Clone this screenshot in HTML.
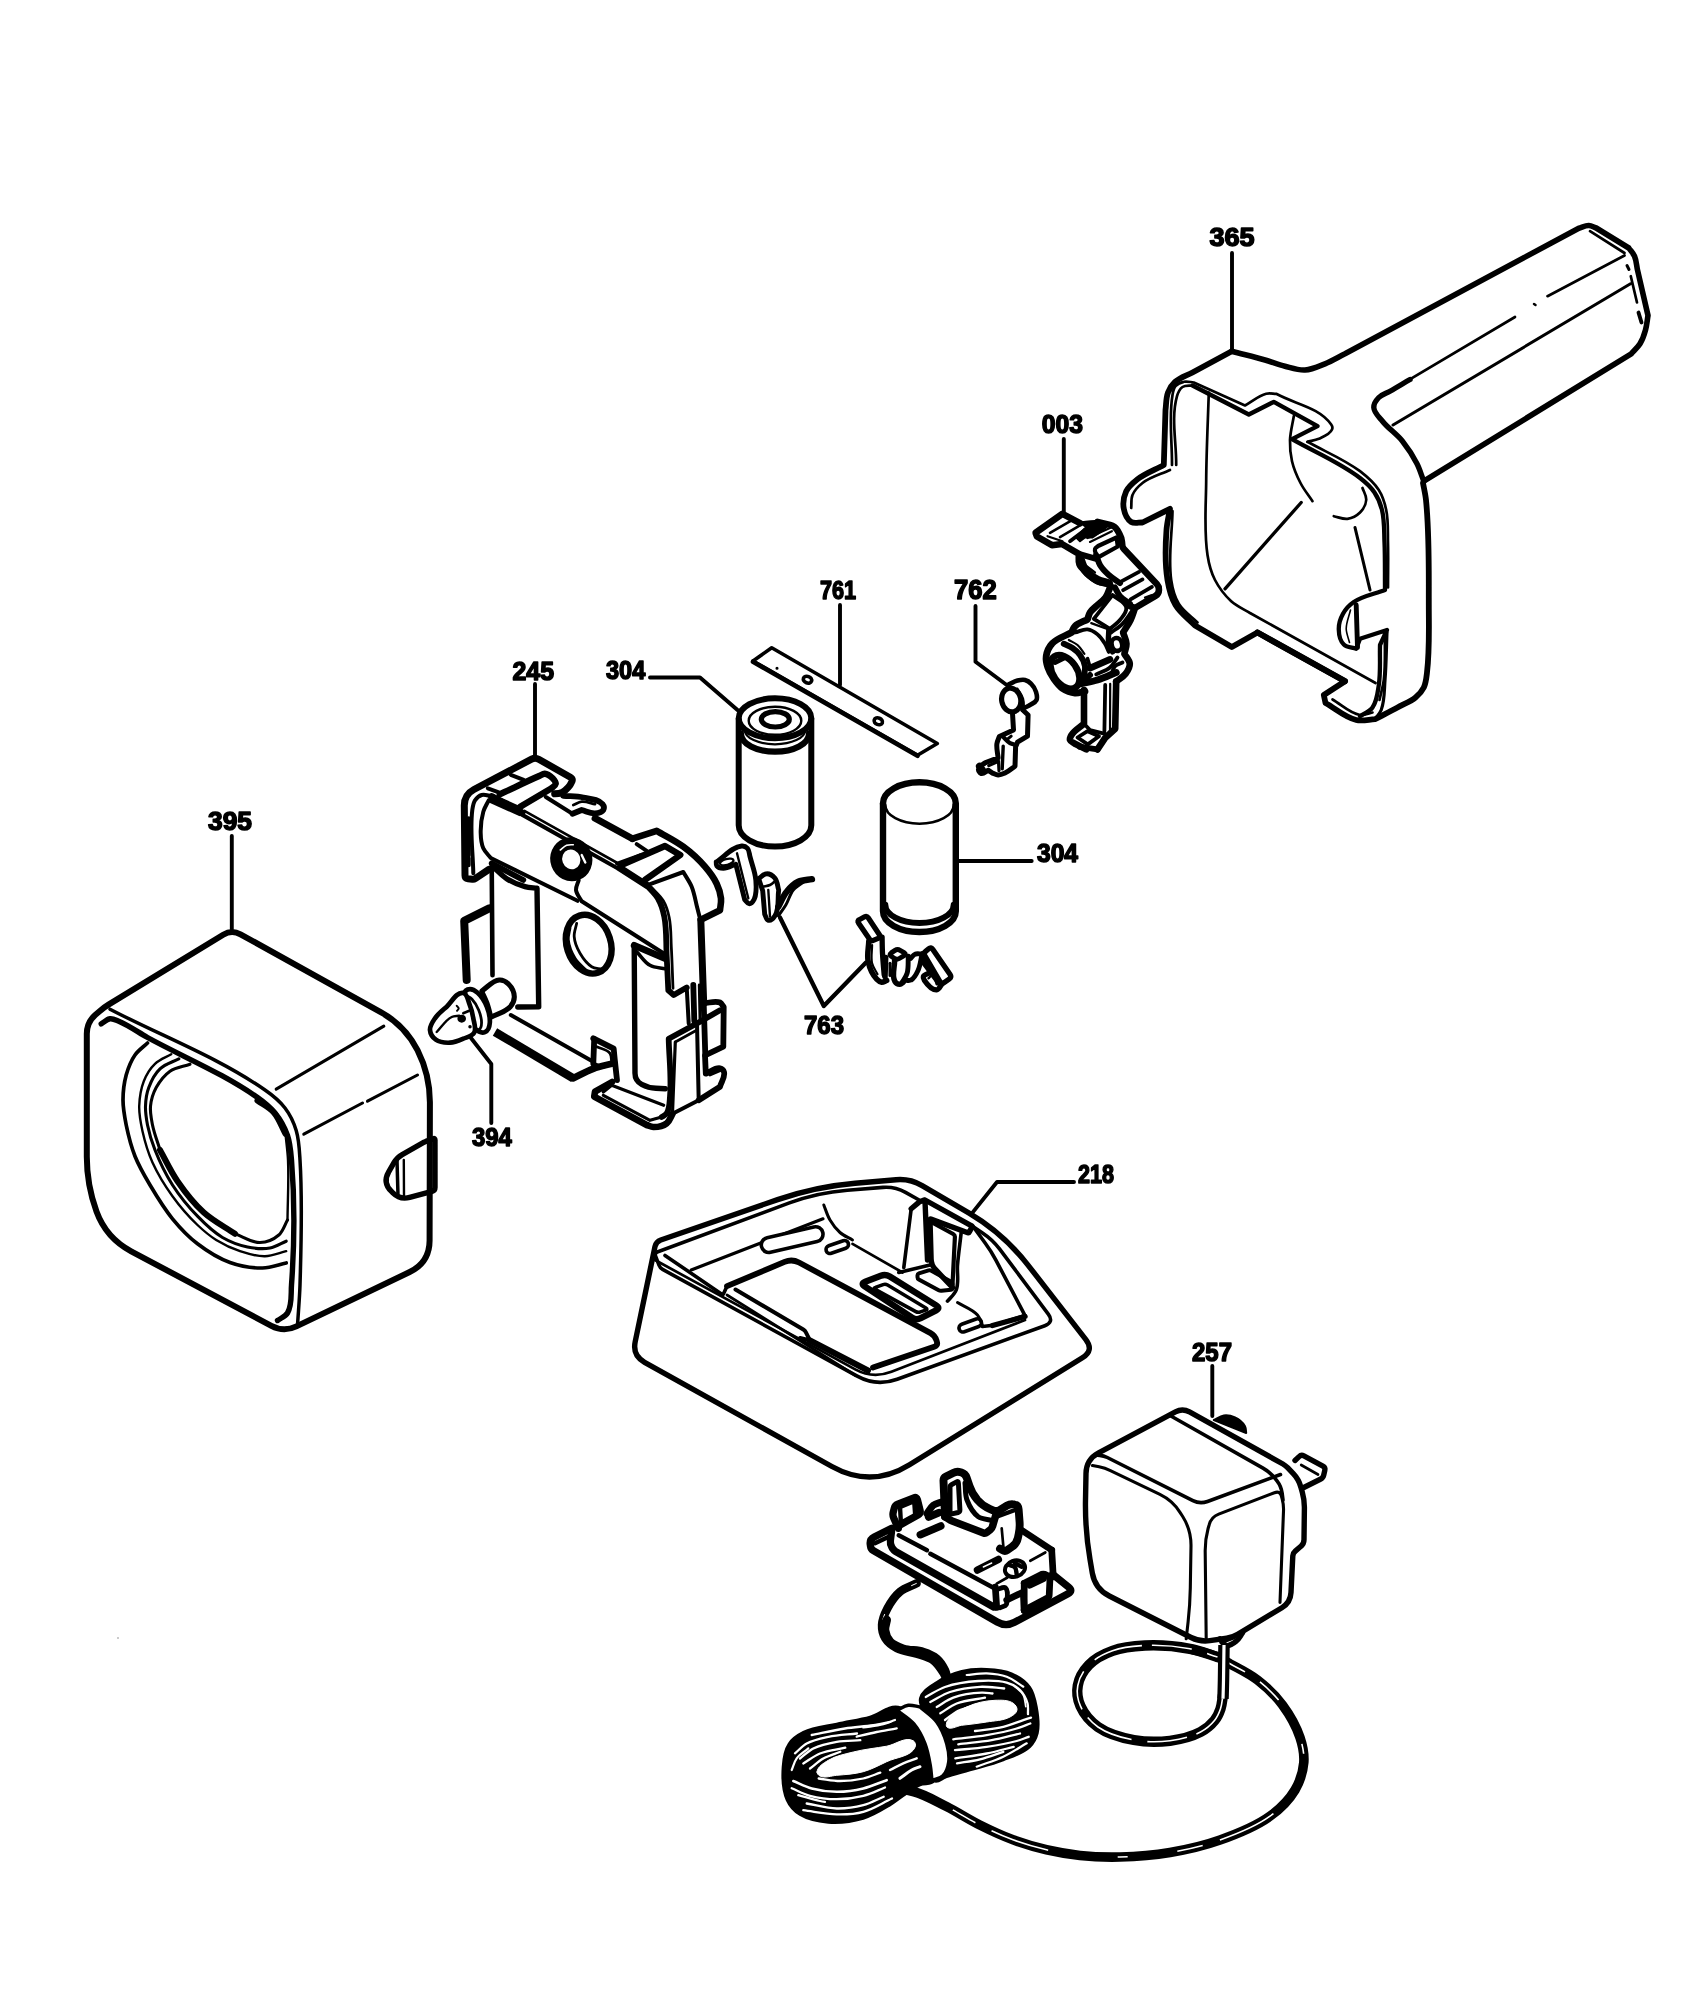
<!DOCTYPE html>
<html><head><meta charset="utf-8"><title>Exploded view</title>
<style>html,body{margin:0;padding:0;background:#fff}svg{display:block}svg{will-change:transform}text{font-family:"Liberation Sans",sans-serif;font-weight:bold;fill:#000;stroke:#000;stroke-width:1.5px;stroke-linejoin:round}</style>
</head><body>
<svg width="1707" height="2000" viewBox="0 0 1707 2000">
<rect width="1707" height="2000" fill="#fff"/>
<text x="1209.4" y="246.3" font-size="26.00" textLength="45.14" lengthAdjust="spacingAndGlyphs">365</text>
<text x="1041.8" y="433.3" font-size="26.00" textLength="41.22" lengthAdjust="spacingAndGlyphs">003</text>
<text x="820.0" y="599.3" font-size="26.00" textLength="36.18" lengthAdjust="spacingAndGlyphs">761</text>
<text x="954.1" y="598.5" font-size="26.75" textLength="42.78" lengthAdjust="spacingAndGlyphs">762</text>
<text x="512.5" y="679.8" font-size="26.00" textLength="41.52" lengthAdjust="spacingAndGlyphs">245</text>
<text x="606.0" y="678.8" font-size="26.00" textLength="39.32" lengthAdjust="spacingAndGlyphs">304</text>
<text x="1037.0" y="862.3" font-size="26.00" textLength="41.00" lengthAdjust="spacingAndGlyphs">304</text>
<text x="208.0" y="829.8" font-size="26.00" textLength="44.00" lengthAdjust="spacingAndGlyphs">395</text>
<text x="472.0" y="1146.3" font-size="26.00" textLength="39.82" lengthAdjust="spacingAndGlyphs">394</text>
<text x="804.0" y="1033.8" font-size="26.00" textLength="40.00" lengthAdjust="spacingAndGlyphs">763</text>
<text x="1078.0" y="1183.3" font-size="26.00" textLength="36.00" lengthAdjust="spacingAndGlyphs">218</text>
<text x="1192.0" y="1360.8" font-size="26.00" textLength="40.00" lengthAdjust="spacingAndGlyphs">257</text>
<path d="M1232 253 L1232 350" fill="none" stroke="#000" stroke-width="3.9" stroke-linecap="round" stroke-linejoin="round"/>
<path d="M1063.8 439 L1063.8 512" fill="none" stroke="#000" stroke-width="3.9" stroke-linecap="round" stroke-linejoin="round"/>
<path d="M840 605 L840 685" fill="none" stroke="#000" stroke-width="3.9" stroke-linecap="round" stroke-linejoin="round"/>
<path d="M975.5 606 L975.5 661.7 L1006.7 685" fill="none" stroke="#000" stroke-width="3.9" stroke-linecap="round" stroke-linejoin="round"/>
<path d="M535 684 L535 759" fill="none" stroke="#000" stroke-width="3.9" stroke-linecap="round" stroke-linejoin="round"/>
<path d="M650 677.5 L700 677.5 L737.5 710" fill="none" stroke="#000" stroke-width="3.9" stroke-linecap="round" stroke-linejoin="round"/>
<path d="M958 861 L1031.7 861" fill="none" stroke="#000" stroke-width="3.9" stroke-linecap="round" stroke-linejoin="round"/>
<path d="M231.8 836 L231.8 929" fill="none" stroke="#000" stroke-width="3.9" stroke-linecap="round" stroke-linejoin="round"/>
<path d="M470 1036.7 L491.3 1064 L491.3 1123" fill="none" stroke="#000" stroke-width="3.9" stroke-linecap="round" stroke-linejoin="round"/>
<path d="M780 917.5 L823.8 1006 L866 962.5" fill="none" stroke="#000" stroke-width="4.3" stroke-linecap="round" stroke-linejoin="round"/>
<path d="M1074 1182 L997 1182 L971.7 1213.6" fill="none" stroke="#000" stroke-width="3.9" stroke-linecap="round" stroke-linejoin="round"/>
<path d="M1212.3 1366 L1212.3 1416" fill="none" stroke="#000" stroke-width="3.9" stroke-linecap="round" stroke-linejoin="round"/>
<circle cx="118" cy="1638" r="0.8" fill="#888"/>
<path d="M1231.8 351.2C1242.8 354.2 1254 356.8 1265 360C1271.7 361.9 1278.2 364.6 1285 366.2C1291.6 367.9 1298.2 370.4 1305 370C1312 369.6 1318.5 366.4 1325 363.8C1331.9 361 1338.3 357.1 1345 353.8L1578.8 228.2C1582.1 227.3 1585.3 225.4 1588.8 225.5C1591.4 225.6 1593.8 227.2 1596.2 228L1628.8 248C1630.7 250.8 1633.2 253.2 1634.5 256.2C1636.4 260.5 1636.5 265.4 1637.5 270L1648 315.5C1647.2 320.3 1646.8 325.3 1645.5 330C1644.2 334.8 1642.6 339.5 1640 343.8C1637.7 347.5 1634.2 350.4 1631.2 353.8L1423.8 481.2" fill="none" stroke="#000" stroke-width="5.6" stroke-linecap="round" stroke-linejoin="round"/>
<path d="M1423.8 481.2C1421.5 475.4 1419.8 469.3 1417 463.8C1413 455.8 1408.1 448.2 1402.5 441.2C1396.6 433.9 1388.4 428.6 1382.5 421.2C1379.1 417 1374 412.9 1373.8 407.5C1373.6 403.8 1376.2 400.2 1378.8 397.5C1381.7 394.4 1386.3 393.4 1390 391.2C1396.7 387.4 1403.3 383.4 1410 379.5" fill="none" stroke="#000" stroke-width="5.4" stroke-linecap="round" stroke-linejoin="round"/>
<path d="M1390 391.2L1515 317" fill="none" stroke="#000" stroke-width="2.7" stroke-linecap="round" stroke-linejoin="round"/>
<path d="M1547.5 296.2L1624.5 255.5" fill="none" stroke="#000" stroke-width="2.7" stroke-linecap="round" stroke-linejoin="round"/>
<path d="M1534 304L1535.5 305" fill="none" stroke="#000" stroke-width="2.5" stroke-linecap="round" stroke-linejoin="round"/>
<path d="M1393 425L1630.5 283.8" fill="none" stroke="#000" stroke-width="3" stroke-linecap="round" stroke-linejoin="round"/>
<path d="M1590 231.2L1624.5 253" fill="none" stroke="#000" stroke-width="2.7" stroke-linecap="round" stroke-linejoin="round"/>
<path d="M1630.8 276.2L1637 302.5" fill="none" stroke="#000" stroke-width="2.7" stroke-linecap="round" stroke-linejoin="round"/>
<path d="M1638.5 312.5L1641.5 322.5" fill="none" stroke="#000" stroke-width="3.9" stroke-linecap="round" stroke-linejoin="round"/>
<path d="M1627 265.5L1629 269.5" fill="none" stroke="#000" stroke-width="3" stroke-linecap="round" stroke-linejoin="round"/>
<path d="M1231.8 351.2C1218.7 358.3 1205.6 365.4 1192.5 372.5C1186.7 375.7 1179.9 377.5 1175 382C1171.9 384.8 1169.5 388.6 1168 392.5C1165.9 398 1166.3 404.2 1165.5 410L1163.8 465C1155 469.8 1145.4 473.2 1137.5 479.2C1133.2 482.6 1128.6 486.3 1126.2 491.2C1123.7 496.6 1122.7 503 1123.8 508.8C1124.7 513.7 1126.9 519.3 1131.2 522C1134.4 524 1138.8 522.3 1142.5 522.5L1170 508.8C1168.8 515.8 1167 522.8 1166.5 530C1165.3 546.6 1164.8 563.6 1167.5 580C1168.9 588.6 1171 597.5 1175.5 605C1180.3 613.1 1188.5 618.7 1195 625.5L1231.8 647L1257.5 632.5L1345 681.2L1323.8 695L1325.5 703C1335.8 708.7 1344.9 717.3 1356.2 720C1362.3 721.4 1368.8 719.5 1375 719.2C1382.5 715.3 1390.1 711.5 1397.5 707.5C1403.5 704.2 1410.2 701.9 1415.5 697.5C1418.8 694.7 1421.9 691.4 1423.8 687.5C1426 682.9 1426.4 677.6 1427 672.5C1429.7 650.2 1428.8 627.5 1428.8 605C1428.7 570 1429.5 534.8 1426 500C1425.4 494.3 1424 488.7 1423 483" fill="none" stroke="#000" stroke-width="5.8" stroke-linecap="round" stroke-linejoin="round"/>
<path d="M1375 719.2C1377.1 716.2 1379.9 713.5 1381.2 710C1384.8 700.6 1384.2 690 1385 680C1386.3 664.2 1386.3 648.3 1387 632.5" fill="none" stroke="#000" stroke-width="3.2" stroke-linecap="round" stroke-linejoin="round"/>
<path d="M1172 465C1172.2 441.7 1168.6 418 1172.5 395C1173 392 1173.5 388.6 1175.5 386.2C1177.5 383.9 1180.7 382.4 1183.8 381.8C1187 381 1190.4 382.2 1193.8 382.5L1245 405.5C1252.1 401.6 1258.4 395.8 1266.2 393.8C1269.5 392.9 1272.9 393.8 1276.2 393.8C1294.6 404 1319.3 407.2 1331.2 424.5C1332.2 425.9 1332.7 428 1332 429.5C1329.9 434.4 1323.6 436.5 1318.8 438.8C1315.2 440.4 1311.2 440.8 1307.5 441.8" fill="none" stroke="#000" stroke-width="2.7" stroke-linecap="round" stroke-linejoin="round"/>
<path d="M1192.5 385.5L1248.8 414.5L1273.8 401.8L1317.5 426.2L1292 439.2C1314.7 452.2 1339.3 462.2 1360 478C1365.4 482.1 1370.7 486.8 1374.5 492.5C1378.1 497.8 1380.5 503.8 1382 510C1384.6 520.6 1384 531.6 1384.5 542.5C1385.2 558.3 1384.8 574.2 1385 590C1374.6 594 1363 595.7 1353.8 602C1349.4 605 1345.5 609.1 1343 613.8C1340.3 618.7 1338.5 624.4 1338.8 630C1338.9 635.1 1340.1 640.9 1343.8 644.5C1346.9 647.6 1352.1 647.3 1356.2 648.8L1360 638.8L1387 630L1380 645C1379.6 658.3 1380.8 671.8 1378.8 685C1377.6 692.7 1377 701.1 1372.5 707.5C1369.6 711.7 1364.2 713.3 1360 716.2" fill="none" stroke="#000" stroke-width="4.3" stroke-linecap="round" stroke-linejoin="round"/>
<path d="M1176.2 465C1176.5 442.1 1170.8 418.3 1177 396.2C1178 392.8 1179.5 389 1182.5 387C1185.3 385.1 1189.2 386 1192.5 385.5" fill="none" stroke="#000" stroke-width="2.7" stroke-linecap="round" stroke-linejoin="round"/>
<path d="M1307.5 441.8C1325 451.6 1344 459.1 1360 471.2C1367 476.6 1374 482.6 1378.8 490C1382.6 496 1384.8 503 1386.2 510C1388.5 520.6 1387.7 531.7 1388 542.5C1388.4 557.5 1388 572.5 1388 587.5" fill="none" stroke="#000" stroke-width="2.7" stroke-linecap="round" stroke-linejoin="round"/>
<path d="M1170 470C1160.8 474.3 1150.5 476.8 1142.5 483C1138.4 486.2 1134.5 490.2 1132.5 495C1130.8 499 1131.7 503.7 1131.2 508" fill="none" stroke="#000" stroke-width="2.7" stroke-linecap="round" stroke-linejoin="round"/>
<path d="M1172.5 511.2C1172.1 534.2 1168 557.3 1171.2 580C1172.4 588.2 1174.4 596.7 1178.8 603.8C1183.3 611.3 1191.2 616.2 1197.5 622.5" fill="none" stroke="#000" stroke-width="2.7" stroke-linecap="round" stroke-linejoin="round"/>
<path d="M1257.5 632.5L1345 681.2" fill="none" stroke="#000" stroke-width="6" stroke-linecap="round" stroke-linejoin="round"/>
<path d="M1332.5 699.5C1341.7 704.7 1349.6 713.3 1360 715C1364.2 715.7 1368.3 713.3 1372.5 712.5" fill="none" stroke="#000" stroke-width="2.7" stroke-linecap="round" stroke-linejoin="round"/>
<path d="M1208.8 392.5C1207.9 421.7 1206.4 450.8 1206.2 480C1206.1 505 1203.7 530.3 1207.5 555C1208.8 563.6 1211 572.3 1215 580C1219.1 587.9 1224.7 595.2 1231.2 601.2C1236.7 606.2 1243.8 609.1 1250 613L1375.5 683" fill="none" stroke="#000" stroke-width="2.7" stroke-linecap="round" stroke-linejoin="round"/>
<path d="M1301.2 502.5L1225 588.8" fill="none" stroke="#000" stroke-width="3.3" stroke-linecap="round" stroke-linejoin="round"/>
<path d="M1293.8 416.2C1292.5 424.2 1290.3 432 1290 440C1289.8 447.1 1290.4 454.3 1292 461.2C1293.8 468.8 1296.9 476.1 1300.5 483C1303.8 489.5 1308.5 495.2 1312.5 501.2" fill="none" stroke="#000" stroke-width="2.7" stroke-linecap="round" stroke-linejoin="round"/>
<path d="M1333.8 516.2C1338.3 517.1 1342.9 519.4 1347.5 518.8C1352.1 518.1 1356.7 515.8 1360 512.5C1363.3 509.2 1365.9 504.6 1366.2 500C1366.6 495.8 1363.8 492 1362.5 488" fill="none" stroke="#000" stroke-width="2.7" stroke-linecap="round" stroke-linejoin="round"/>
<path d="M1355 527.5L1370 590" fill="none" stroke="#000" stroke-width="3.1" stroke-linecap="round" stroke-linejoin="round"/>
<path d="M1356.2 605L1357.5 647.5" fill="none" stroke="#000" stroke-width="4.9" stroke-linecap="round" stroke-linejoin="round"/>
<path d="M1350.5 610C1349.1 616.2 1346.2 622.3 1346.2 628.8C1346.3 633.5 1348.4 637.9 1349.5 642.5" fill="none" stroke="#000" stroke-width="1.6" stroke-linecap="round" stroke-linejoin="round"/>
<path d="M1385 633.8C1384.6 649.2 1385.6 664.7 1383.8 680C1382.9 686.8 1380.9 693.3 1379.5 700" fill="none" stroke="#000" stroke-width="2.7" stroke-linecap="round" stroke-linejoin="round"/>
<path d="M1080 523.1L1062.5 513.8L1035.6 532.8L1036.9 536.5L1051.9 545.2L1061.9 544L1078.8 553.8C1079 557.3 1078.1 561.1 1079.4 564.4C1080.5 567.1 1082.9 569.2 1085 571.2C1088.8 575 1092.7 579 1097.5 581.2C1101 582.9 1105 582.8 1108.8 583.5" fill="none" stroke="#000" stroke-width="6.6" stroke-linecap="round" stroke-linejoin="round"/>
<path d="M1050 532.8L1071.2 520.6" fill="none" stroke="#000" stroke-width="2.6" stroke-linecap="round" stroke-linejoin="round"/>
<path d="M1060 537.2L1080 525.4" fill="none" stroke="#000" stroke-width="2.6" stroke-linecap="round" stroke-linejoin="round"/>
<path d="M1047.5 536.2L1062.5 541.2" fill="none" stroke="#000" stroke-width="2.2" stroke-linecap="round" stroke-linejoin="round"/>
<path d="M1070 541.2L1087.5 528.1" fill="none" stroke="#000" stroke-width="3.8" stroke-linecap="round" stroke-linejoin="round"/>
<path d="M1079.4 522.5C1085.4 522.1 1091.5 520.5 1097.5 521.2C1101.4 521.7 1105 523.8 1108.8 525L1102.5 530.6L1092.5 537.5L1085 537.5L1080 541.2L1076.2 537.5L1086.2 526.9L1079.4 522.5Z" fill="#000" stroke="#000" stroke-width="2" stroke-linecap="round" stroke-linejoin="round"/>
<path d="M1090 541.9L1111.9 531.2" fill="none" stroke="#000" stroke-width="2.2" stroke-linecap="round" stroke-linejoin="round"/>
<path d="M1087.5 538.1L1110 528.1" fill="none" stroke="#000" stroke-width="2.2" stroke-linecap="round" stroke-linejoin="round"/>
<path d="M1097.5 521.9L1110.1 524.9 Q1115 526 1117.5 530.4L1119.5 534 Q1121.5 537.5 1121.9 541.5L1122.3 545.5 Q1122.5 547.5 1123.9 549L1157 584.3 Q1159 586.5 1158.9 589.5L1158.9 590.2 Q1158.8 594 1155.5 595.9L1136.7 607 Q1135 608 1133.1 607.3L1130 606.2" fill="none" stroke="#000" stroke-width="6.6" stroke-linecap="round" stroke-linejoin="round"/>
<path d="M1096.2 555C1095.8 553 1094.4 551 1095 549C1095.4 547.6 1097.1 547 1098.1 546L1116.5 537.5L1117.8 546.5L1099 556.9" fill="none" stroke="#000" stroke-width="4.2" stroke-linecap="round" stroke-linejoin="round"/>
<path d="M1096.2 555C1097.5 558.3 1098.2 561.9 1100 565C1102.3 568.8 1105.5 572 1108.8 575C1112.2 578.1 1116.2 580.4 1120 583.1" fill="none" stroke="#000" stroke-width="6" stroke-linecap="round" stroke-linejoin="round"/>
<path d="M1080.2 558.8C1081.8 562.5 1082.5 566.8 1085 570C1088.2 574.3 1092.8 577.5 1097.5 580C1101 581.8 1105 582.3 1108.8 583.5" fill="none" stroke="#000" stroke-width="8.5" stroke-linecap="round" stroke-linejoin="round"/>
<path d="M1085 565L1095 572.5" fill="none" stroke="#000" stroke-width="2.2" stroke-linecap="round" stroke-linejoin="round"/>
<path d="M1078.8 553.8L1096.2 558.8" fill="none" stroke="#000" stroke-width="6" stroke-linecap="round" stroke-linejoin="round"/>
<path d="M1120 582.2L1139 571.9" fill="none" stroke="#000" stroke-width="3.8" stroke-linecap="round" stroke-linejoin="round"/>
<path d="M1123.1 590.2L1142.5 579.4" fill="none" stroke="#000" stroke-width="3.8" stroke-linecap="round" stroke-linejoin="round"/>
<path d="M1130.6 599.4L1151.9 586.9" fill="none" stroke="#000" stroke-width="3.8" stroke-linecap="round" stroke-linejoin="round"/>
<path d="M1115 587.5C1116.7 590.4 1117.8 593.7 1120 596.2C1122.8 599.4 1126.7 601.2 1130 603.8" fill="none" stroke="#000" stroke-width="6" stroke-linecap="round" stroke-linejoin="round"/>
<path d="M1145 597.5L1151.2 595.2" fill="none" stroke="#000" stroke-width="2.2" stroke-linecap="round" stroke-linejoin="round"/>
<path d="M1110.6 586.2C1109 590 1108 594.2 1105.6 597.5C1103.1 601 1099.3 603.3 1096.2 606.2C1094.1 608.3 1091.6 610 1090 612.5C1088.7 614.6 1088.3 617.1 1087.5 619.4C1083.3 621.7 1078.4 622.9 1075 626.2C1073.3 627.9 1072.7 630.4 1071.5 632.5C1065 636.2 1056.9 638.2 1051.9 643.8C1048.8 647.1 1046.9 651.7 1046.2 656.2C1045.7 660 1046.6 663.9 1047.8 667.5C1049.1 671.5 1051.3 675.3 1053.8 678.8C1056.3 682.3 1058.9 686 1062.5 688.5C1066.2 691 1070.6 692.7 1075 693.1C1078.4 693.4 1081.7 691.9 1085 691.2" fill="none" stroke="#000" stroke-width="6.8" stroke-linecap="round" stroke-linejoin="round"/>
<path d="M1135 608.1C1133.5 612.1 1132.4 616.2 1130.6 620C1128.5 624.4 1125.6 628.3 1123.1 632.5C1124.2 636.2 1126.3 639.8 1126.5 643.8C1126.6 647.2 1125.1 650.4 1124.4 653.8C1126.2 657.1 1129.6 660 1129.8 663.8C1129.9 667.4 1127.8 670.8 1125.6 673.8C1123.2 677 1119.4 678.9 1116.2 681.5" fill="none" stroke="#000" stroke-width="6.6" stroke-linecap="round" stroke-linejoin="round"/>
<path d="M1112.5 595C1117.1 599.2 1125.1 601.4 1126.2 607.5C1127.1 612.1 1122.8 616.3 1120 620C1117.3 623.5 1113.3 625.8 1110 628.8L1093.8 618.8L1112.5 595" fill="none" stroke="#000" stroke-width="3.8" stroke-linecap="round" stroke-linejoin="round"/>
<path d="M1131.9 611.2C1128.8 615.4 1126.2 620 1122.5 623.8C1119.2 627.1 1115 629.6 1111.2 632.5" fill="none" stroke="#000" stroke-width="3.8" stroke-linecap="round" stroke-linejoin="round"/>
<path d="M1108.8 630C1108.8 634.6 1107.8 639.3 1108.8 643.8C1109.4 646.7 1111.2 649.2 1112.5 651.9" fill="none" stroke="#000" stroke-width="5.4" stroke-linecap="round" stroke-linejoin="round"/>
<path d="M1091.2 623.1L1110 630" fill="none" stroke="#000" stroke-width="2.2" stroke-linecap="round" stroke-linejoin="round"/>
<ellipse cx="1116.9" cy="644.4" rx="5.2" ry="6.5" fill="none" stroke="#000" stroke-width="4.6" transform="rotate(-15 1116.9 644.4)"/>
<path d="M1075 632.5C1079.2 631.5 1083.2 628.9 1087.5 629.4C1091.2 629.8 1094.6 632 1097.5 634.4C1100.6 636.9 1102.9 640.3 1105 643.8C1106.6 646.3 1107.5 649.2 1108.8 651.9" fill="none" stroke="#000" stroke-width="3.8" stroke-linecap="round" stroke-linejoin="round"/>
<path d="M1063.8 643.8C1066.7 645.2 1069.8 646.3 1072.5 648.1C1075.3 650 1078 652.2 1080 655C1082.4 658.3 1084.4 662.2 1085 666.2C1085.6 670 1084.2 673.8 1083.8 677.5" fill="none" stroke="#000" stroke-width="6" stroke-linecap="round" stroke-linejoin="round"/>
<path d="M1068.8 640C1071.7 641.7 1075 642.8 1077.5 645C1080.3 647.4 1082.1 650.8 1084.4 653.8" fill="none" stroke="#000" stroke-width="2.2" stroke-linecap="round" stroke-linejoin="round"/>
<path d="M1087.5 658.8L1090 667.5" fill="none" stroke="#000" stroke-width="3.8" stroke-linecap="round" stroke-linejoin="round"/>
<ellipse cx="1065" cy="671.9" rx="11.9" ry="18.8" fill="none" stroke="#000" stroke-width="6.6" transform="rotate(-35 1065 671.9)"/>
<path d="M1055 662.5L1065 657.5" fill="none" stroke="#000" stroke-width="4.8" stroke-linecap="round" stroke-linejoin="round"/>
<path d="M1090 668.1L1110 659.4" fill="none" stroke="#000" stroke-width="6.6" stroke-linecap="round" stroke-linejoin="round"/>
<path d="M1096.2 674.4C1100.8 672.1 1106.1 670.8 1110 667.5C1113.2 664.8 1115 660.8 1117.5 657.5" fill="none" stroke="#000" stroke-width="3.8" stroke-linecap="round" stroke-linejoin="round"/>
<path d="M1111.2 675C1112.5 672.1 1112.8 668.6 1115 666.2C1116.9 664.2 1120 663.8 1122.5 662.5" fill="none" stroke="#000" stroke-width="3.8" stroke-linecap="round" stroke-linejoin="round"/>
<path d="M1080 683.8C1085.8 682.5 1091.8 681.7 1097.5 680C1103.9 678 1110 675 1116.2 672.5" fill="none" stroke="#000" stroke-width="7" stroke-linecap="round" stroke-linejoin="round"/>
<path d="M1087.5 677.5L1090 675" fill="none" stroke="#000" stroke-width="6" stroke-linecap="round" stroke-linejoin="round"/>
<path d="M1084 690L1084 723.8C1079.8 727.5 1074.5 730.3 1071.5 735C1070.6 736.5 1069.5 738.3 1070 740C1070.7 742 1073.3 742.5 1075 743.8L1086.2 749.4" fill="none" stroke="#000" stroke-width="6.6" stroke-linecap="round" stroke-linejoin="round"/>
<path d="M1116.2 681.5L1115.2 728.8L1105 738.1L1097.5 749.4" fill="none" stroke="#000" stroke-width="6.6" stroke-linecap="round" stroke-linejoin="round"/>
<path d="M1105.2 685L1104.4 731.2" fill="none" stroke="#000" stroke-width="3.8" stroke-linecap="round" stroke-linejoin="round"/>
<path d="M1110.2 683.8L1110 731.2" fill="none" stroke="#000" stroke-width="2.2" stroke-linecap="round" stroke-linejoin="round"/>
<path d="M1084 723.8L1090 730L1105 733.8" fill="none" stroke="#000" stroke-width="3.8" stroke-linecap="round" stroke-linejoin="round"/>
<path d="M1077.5 737.5L1087.5 731.2L1099 736.2L1087.8 744.4L1077.5 737.5Z" fill="none" stroke="#000" stroke-width="3.8" stroke-linecap="round" stroke-linejoin="round"/>
<path d="M1080 746.9L1097.5 749.4" fill="none" stroke="#000" stroke-width="6" stroke-linecap="round" stroke-linejoin="round"/>
<ellipse cx="1011.2" cy="700" rx="9.5" ry="12" fill="none" stroke="#000" stroke-width="5.2" transform="rotate(-12 1011.2 700)"/>
<path d="M1008.8 684.4C1011.7 683.1 1014.4 681.4 1017.5 680.6C1019.9 680 1022.6 679.4 1025 680C1027.4 680.6 1029.5 682 1031.2 683.8C1033.5 686 1035.1 688.9 1036 691.9C1036.8 694.5 1037.6 697.5 1036.5 700C1035.4 702.5 1032.3 703.5 1030 705C1027.8 706.4 1025.4 707.3 1023.1 708.5" fill="none" stroke="#000" stroke-width="4.6" stroke-linecap="round" stroke-linejoin="round"/>
<path d="M1016.9 690C1018.5 692.9 1020.9 695.5 1021.9 698.8C1023 702.3 1022.5 706.2 1022.8 710" fill="none" stroke="#000" stroke-width="4.6" stroke-linecap="round" stroke-linejoin="round"/>
<path d="M1022.8 710L1028.1 715L1027.5 736.2L1017.5 742.2L1015.6 746.9L1015 766.2C1011.7 768.5 1008.7 771.4 1005 773.1C1002.8 774.1 1000.5 775.1 998.1 775C996.1 774.9 994.4 773.8 992.5 773.1L988.1 770.2C985.8 771.3 983.7 774.3 981.2 773.5C979.5 773 978.2 770.6 978.5 768.8C978.9 765.8 982.8 764.8 985 762.8L998.1 757.8C997.7 753.1 996.3 748.4 996.9 743.8C997.2 741.2 998.5 738.9 999.4 736.5L1013.5 730L1012.5 713.1" fill="none" stroke="#000" stroke-width="5" stroke-linecap="round" stroke-linejoin="round"/>
<path d="M1003.8 737.5C1005.8 739.4 1007.6 741.8 1010 743.1C1011.9 744.2 1014.2 744.4 1016.2 745" fill="none" stroke="#000" stroke-width="4.2" stroke-linecap="round" stroke-linejoin="round"/>
<path d="M1011.2 736.2L1006.5 740" fill="none" stroke="#000" stroke-width="3" stroke-linecap="round" stroke-linejoin="round"/>
<path d="M1003.2 746.2L1002.2 768.8" fill="none" stroke="#000" stroke-width="3.4" stroke-linecap="round" stroke-linejoin="round"/>
<path d="M988.8 765.6L998.5 761.2L999 770.6" fill="none" stroke="#000" stroke-width="3.2" stroke-linecap="round" stroke-linejoin="round"/>
<path d="M979.4 766.2L982.5 770" fill="none" stroke="#000" stroke-width="7" stroke-linecap="round" stroke-linejoin="round"/>
<path d="M753 661L771.7 647.8L937.3 743.5L917.5 755.3L753 661Z" fill="none" stroke="#000" stroke-width="3.6" stroke-linecap="round" stroke-linejoin="round"/>
<path d="M753 661.7L917.5 755.8" fill="none" stroke="#000" stroke-width="4.6" stroke-linecap="round" stroke-linejoin="round"/>
<ellipse cx="807.5" cy="679.7" rx="4.3" ry="3.3" fill="none" stroke="#000" stroke-width="3.6" transform="rotate(20 807.5 679.7)"/>
<ellipse cx="878.3" cy="721.3" rx="4.3" ry="3.3" fill="none" stroke="#000" stroke-width="3.6" transform="rotate(20 878.3 721.3)"/>
<ellipse cx="777" cy="668.3" rx="0.8" ry="0.8" fill="#000" stroke="#000" stroke-width="1.5"/>
<path d="M738.7 718.3 L738.7 825.3 A36.3 21.3 0 0 0 811.3 825.3 L811.3 718.3" fill="none" stroke="#000" stroke-width="6" stroke-linejoin="round"/>
<ellipse cx="775" cy="718.3" rx="36.3" ry="20" fill="none" stroke="#000" stroke-width="6"/>
<ellipse cx="775" cy="720.8" rx="26.3" ry="14" fill="none" stroke="#000" stroke-width="2.4"/>
<ellipse cx="775.3" cy="719.3" rx="14" ry="7.7" fill="none" stroke="#000" stroke-width="5.2"/>
<path d="M741 733.7 A34 18 0 0 0 809 733.7" fill="none" stroke="#000" stroke-width="6.2" stroke-linecap="round"/>
<path d="M744.7 730 A30.3 14.3 0 0 0 805.3 730" fill="none" stroke="#000" stroke-width="2.2" stroke-linecap="round"/>
<path d="M883 803.3 L883 911.3 A36.4 20.7 0 0 0 955.8 911.3 L955.8 803.3" fill="none" stroke="#000" stroke-width="6.4" stroke-linejoin="round"/>
<path d="M883 803.3 A36.4 21 0 0 1 955.8 803.3" fill="none" stroke="#000" stroke-width="6.4" stroke-linecap="round"/>
<path d="M885.3 805 A34.2 18.7 0 0 0 953.7 805" fill="none" stroke="#000" stroke-width="2.6" stroke-linecap="round"/>
<path d="M885.3 904.7 A34.2 18.3 0 0 0 953.7 904.7" fill="none" stroke="#000" stroke-width="6" stroke-linecap="round"/>
<path d="M716.3 862C724.8 856.7 731.7 846.9 741.7 846C743.8 845.8 746.1 846.8 747.5 848.3C749.5 850.5 749.2 853.9 750 856.7C751.9 864.4 755.2 872 755.8 880C756.3 886.4 757 893.4 754.2 899.2C753.2 901.2 751.4 903.7 749.2 903.7C747.2 903.7 746.2 901 744.7 899.7L735.8 864.2C731.7 865.6 727.7 868.4 723.3 868.3C721 868.3 718.1 867.7 716.7 865.8C715.9 864.8 716.4 863.3 716.3 862" fill="none" stroke="#000" stroke-width="4.9" stroke-linecap="round" stroke-linejoin="round"/>
<ellipse cx="726.7" cy="862" rx="7" ry="3" fill="none" stroke="#000" stroke-width="2.4" transform="rotate(-15 726.7 862)"/>
<path d="M737 853.3L748.3 898.3" fill="none" stroke="#000" stroke-width="2.4" stroke-linecap="round" stroke-linejoin="round"/>
<path d="M758.7 878.7C761.3 877 763.5 873.7 766.7 873.7C769.8 873.6 773 875.9 775 878.3C777.6 881.5 777.4 886.1 778.7 890C777.4 898.6 779.6 908.5 775 915.8C773.6 918.1 770.9 920.9 768.3 920.3C766 919.8 765.9 916.2 764.7 914.2L762.7 890.8L758.7 878.7" fill="none" stroke="#000" stroke-width="4.9" stroke-linecap="round" stroke-linejoin="round"/>
<path d="M762.7 886.7C765.1 886.1 767.7 886.1 770 885C772.4 883.8 774.2 881.7 776.3 880" fill="none" stroke="#000" stroke-width="2.6" stroke-linecap="round" stroke-linejoin="round"/>
<path d="M768.3 890L770 916.7" fill="none" stroke="#000" stroke-width="2.4" stroke-linecap="round" stroke-linejoin="round"/>
<path d="M778.3 906.7C781.1 901.7 783 896.1 786.7 891.7C789.9 887.7 793.7 883.9 798.3 881.7C802.5 879.7 807.4 880 812 879.2" fill="none" stroke="#000" stroke-width="6.3" stroke-linecap="round" stroke-linejoin="round"/>
<path d="M806.7 880C802.2 883.3 796.9 885.7 793.3 890C789.8 894.3 788.7 900.2 785.8 905C783.6 908.8 780.8 912.2 778.3 915.8" fill="none" stroke="#000" stroke-width="3" stroke-linecap="round" stroke-linejoin="round"/>
<path d="M858.5 922.9 Q857.1 920.8 859.3 919.7L864.6 916.8 Q866.8 915.7 868.2 917.8L879.6 935 Q881 937.1 878.7 938.1L873.3 940.4 Q871 941.4 869.6 939.3Z" fill="none" stroke="#000" stroke-width="5.3" stroke-linecap="round" stroke-linejoin="round"/>
<path d="M868.8 941.2C868.6 948.1 866.7 955 868.2 961.7C869.5 968 872.3 974.4 876.7 979.2C878 980.6 879.7 982 881.7 982.2C883.4 982.3 885 981 886.7 980.4" fill="none" stroke="#000" stroke-width="5.5" stroke-linecap="round" stroke-linejoin="round"/>
<path d="M882.1 937.1C882.2 942.5 882.2 947.9 882.5 953.3C882.9 960.6 883.6 967.8 884.2 975" fill="none" stroke="#000" stroke-width="5.3" stroke-linecap="round" stroke-linejoin="round"/>
<path d="M872.1 945C872.1 951.1 870.7 957.4 872.1 963.3C873 967.3 875.7 970.6 877.5 974.2" fill="none" stroke="#000" stroke-width="2.2" stroke-linecap="round" stroke-linejoin="round"/>
<path d="M891.2 956.3 Q888.8 954.6 891.2 952.9L895 950.4 Q897.5 948.8 900.1 950.3L904.1 952.6 Q906.7 954.2 904.1 955.7L899.3 958.5 Q896.7 960 894.2 958.3Z" fill="none" stroke="#000" stroke-width="4.9" stroke-linecap="round" stroke-linejoin="round"/>
<path d="M885.7 957.5L885 976.7" fill="none" stroke="#000" stroke-width="5.5" stroke-linecap="round" stroke-linejoin="round"/>
<path d="M894.6 960.8C894.7 967.8 891.4 975.7 895 981.7C896 983.3 898.1 984.4 900 984.3C901.3 984.3 902.2 982.8 903.3 982.1" fill="none" stroke="#000" stroke-width="5.5" stroke-linecap="round" stroke-linejoin="round"/>
<path d="M908.3 956.2C907.9 961.9 908.7 967.9 907.1 973.3C906.1 976.7 903.8 979.4 902.1 982.5" fill="none" stroke="#000" stroke-width="4.9" stroke-linecap="round" stroke-linejoin="round"/>
<path d="M890 963.3L890 975.4" fill="none" stroke="#000" stroke-width="3" stroke-linecap="round" stroke-linejoin="round"/>
<path d="M910.8 958.3C912.2 956.9 913.2 954.9 915 954.2C917.2 953.2 919.7 954.1 922.1 954" fill="none" stroke="#000" stroke-width="4.9" stroke-linecap="round" stroke-linejoin="round"/>
<path d="M922.1 954C920.7 959.6 920.4 965.6 917.9 970.8C916.3 974.3 914.5 978.2 911.2 980C909.7 980.9 907.6 980.3 905.8 980.4" fill="none" stroke="#000" stroke-width="4.9" stroke-linecap="round" stroke-linejoin="round"/>
<path d="M924.9 955.9 Q923.3 953.3 925.6 951.4L928.7 948.8 Q931 946.8 932.7 949.3L950.1 974.6 Q951.8 977.1 949.4 978.8L944.1 982.6 Q941.7 984.3 940.1 981.8Z" fill="none" stroke="#000" stroke-width="5.3" stroke-linecap="round" stroke-linejoin="round"/>
<path d="M923.3 953.3L923.3 962.1L939.2 983.5" fill="none" stroke="#000" stroke-width="5.3" stroke-linecap="round" stroke-linejoin="round"/>
<path d="M930 972.7C927.8 974 924.3 974.3 923.3 976.7C922.9 977.8 923.7 979.2 924.3 980.2C927.2 984.5 931.5 990.2 936.7 989.8C939.2 989.6 940.1 986.2 941.8 984.3" fill="none" stroke="#000" stroke-width="5.3" stroke-linecap="round" stroke-linejoin="round"/>
<path d="M928.5 978.3C929.8 977.4 930.9 975 932.5 975.4C935.6 976.2 935.3 981.2 936.7 984.2" fill="none" stroke="#000" stroke-width="2.4" stroke-linecap="round" stroke-linejoin="round"/>
<path d="M488.8 869.5L475.2 878.7 Q474 879.5 472.5 879.3L468 878.8 Q465 878.5 465 875.5L464.3 805.7 Q464.2 794.7 473.9 789.5L531.6 759.2 Q535.2 757.3 538.7 759.3L570.4 777.2 Q573 778.7 571.9 781.5L571.4 782.5 Q570.3 785.3 568.2 787.4L565.3 790.2 Q562.5 793 558.6 793.4L554.7 793.8" fill="none" stroke="#000" stroke-width="7" stroke-linecap="round" stroke-linejoin="round"/>
<path d="M473.3 873.3C473 852.2 469.7 830.9 472.3 810C472.8 806.7 473.2 803.1 475 800.3C476.6 798 478.9 795.8 481.7 795C484.9 794.1 488.3 795.9 491.7 796.3" fill="none" stroke="#000" stroke-width="4" stroke-linecap="round" stroke-linejoin="round"/>
<path d="M468.7 818.3L468.7 868.3" fill="none" stroke="#000" stroke-width="4" stroke-linecap="round" stroke-linejoin="round" stroke-dasharray="7 3"/>
<path d="M499.8 794.3C513.1 788.2 526.2 781.6 539.7 775.8C541.3 775.1 542.9 773.7 544.7 773.8C547.7 774 550.5 776.2 552.7 778.3C554.1 779.8 556 781.8 555.7 783.8C555.3 786.2 552.3 787.2 550.7 788.8L520.2 806.8" fill="none" stroke="#000" stroke-width="6.4" stroke-linecap="round" stroke-linejoin="round"/>
<path d="M510.8 774.8L523.7 779.8" fill="none" stroke="#000" stroke-width="4" stroke-linecap="round" stroke-linejoin="round"/>
<path d="M487.8 788.3L498.8 792.3" fill="none" stroke="#000" stroke-width="4" stroke-linecap="round" stroke-linejoin="round"/>
<path d="M563.3 795.8C570 796.4 576.8 796.1 583.3 797.5C590 798.9 598.2 798.9 602.5 804.2C603.7 805.7 604.3 808.3 603.3 810C601.8 812.6 598 813.1 595 813.3C590.4 813.6 586.1 811.1 581.7 810L572.5 813.7" fill="none" stroke="#000" stroke-width="5.8" stroke-linecap="round" stroke-linejoin="round"/>
<path d="M573.3 805C576.1 803.9 578.7 802 581.7 801.7C586.2 801.2 590.6 803.3 595 804.2" fill="none" stroke="#000" stroke-width="2.8" stroke-linecap="round" stroke-linejoin="round"/>
<path d="M491.7 796.7L520 812L618.3 867L646.7 885.3" fill="none" stroke="#000" stroke-width="7" stroke-linecap="round" stroke-linejoin="round"/>
<path d="M489.2 797.5L521.7 812" fill="none" stroke="#000" stroke-width="9.5" stroke-linecap="butt" stroke-linejoin="round"/>
<path d="M524.2 811.3L616.7 863" fill="none" stroke="#000" stroke-width="3.4" stroke-linecap="round" stroke-linejoin="round"/>
<path d="M525.3 813.5L617.3 865.3" fill="none" stroke="#fff" stroke-width="1.3" stroke-linecap="butt" stroke-linejoin="round"/>
<path d="M545.8 797L572.5 813.7" fill="none" stroke="#000" stroke-width="4" stroke-linecap="round" stroke-linejoin="round"/>
<path d="M595 818.3L632.5 838.7" fill="none" stroke="#000" stroke-width="6.8" stroke-linecap="round" stroke-linejoin="round"/>
<path d="M616.7 863.7L640 855" fill="none" stroke="#000" stroke-width="3.4" stroke-linecap="round" stroke-linejoin="round"/>
<path d="M632.5 838.7L656.7 830.8C665.6 836.1 675 840.5 683.3 846.7C691.2 852.5 698.6 859.2 705 866.7C709.5 871.9 713.7 877.5 716.7 883.7C718.9 888.3 720.5 893.3 721 898.3C721.4 902.3 720.3 906.3 720 910.3L700.8 919.7" fill="none" stroke="#000" stroke-width="6.6" stroke-linecap="round" stroke-linejoin="round"/>
<path d="M620.8 865.3L665 846L680.3 855L645.3 879.7" fill="none" stroke="#000" stroke-width="6.4" stroke-linecap="round" stroke-linejoin="round"/>
<path d="M636.7 844.2L646.7 850.8" fill="none" stroke="#000" stroke-width="4" stroke-linecap="round" stroke-linejoin="round"/>
<path d="M646.7 885.3L683.3 872C686.1 876.9 689.5 881.5 691.7 886.7C694.3 893.1 695.3 900 697 906.7C698.1 911 699.2 915.3 700.3 919.7" fill="none" stroke="#000" stroke-width="4" stroke-linecap="round" stroke-linejoin="round"/>
<path d="M488.7 800.3C486.9 804.1 484.5 807.7 483.3 811.7C481.3 818.7 480.5 826.1 480.7 833.3C480.8 838.4 481.3 843.7 483.3 848.3C485 852.1 488.3 854.8 490.8 858L577.5 900.8" fill="none" stroke="#000" stroke-width="4" stroke-linecap="round" stroke-linejoin="round"/>
<path d="M578.7 880.3C577.8 883.6 575.7 886.7 576 890C576.4 894.2 579.8 897.6 581.7 901.3L665 954.2" fill="none" stroke="#000" stroke-width="4" stroke-linecap="round" stroke-linejoin="round"/>
<ellipse cx="571.3" cy="859.3" rx="15" ry="16" fill="none" stroke="#000" stroke-width="12" transform="rotate(-20 571.3 859.3)"/>
<path d="M560.3 850C562.4 848.4 564.2 846.3 566.7 845.3C568.8 844.5 571.1 844.9 573.3 844.7" fill="none" stroke="#fff" stroke-width="1.6" stroke-linecap="round" stroke-linejoin="round"/>
<path d="M581.7 855L585.3 862.5" fill="none" stroke="#fff" stroke-width="2.4" stroke-linecap="round" stroke-linejoin="round"/>
<path d="M646.7 885.3C650.6 889.9 655.4 893.9 658.3 899.2C661.4 904.5 663.1 910.6 664.3 916.7C666.9 929.8 665.9 943.3 666.7 956.7C667.3 967.9 667.8 979.1 668.3 990.3L673.7 995L686.7 987.5" fill="none" stroke="#000" stroke-width="5.8" stroke-linecap="round" stroke-linejoin="round"/>
<path d="M650.8 886.7C655 891.4 660.2 895.4 663.3 900.8C666.3 905.9 668 911.7 669.2 917.5C671.2 927 670.8 936.9 671.3 946.7C672.1 960.5 672.4 974.4 673 988.3" fill="none" stroke="#000" stroke-width="2.8" stroke-linecap="round" stroke-linejoin="round"/>
<path d="M700.8 920L703.7 1003.3" fill="none" stroke="#000" stroke-width="7" stroke-linecap="round" stroke-linejoin="round"/>
<path d="M703.7 1003.3C709.1 1003.1 715 1000.3 720 1002.5C721.8 1003.3 722.4 1005.5 723.7 1007L723.3 1046.7L705 1055.3L705.8 1073.7C710.6 1071.9 715 1067.4 720 1068.3C721.8 1068.7 723.5 1070.3 724 1072C725.4 1076.9 721.3 1081.8 720 1086.7L698.7 1100.3" fill="none" stroke="#000" stroke-width="5.8" stroke-linecap="round" stroke-linejoin="round"/>
<path d="M703.7 1003.3L705.3 1055.3" fill="none" stroke="#000" stroke-width="5.8" stroke-linecap="round" stroke-linejoin="round"/>
<path d="M693.3 985L694.3 1020.8" fill="none" stroke="#000" stroke-width="5.8" stroke-linecap="round" stroke-linejoin="round"/>
<path d="M686.7 987.5L688.7 1023.3" fill="none" stroke="#000" stroke-width="4" stroke-linecap="round" stroke-linejoin="round"/>
<path d="M699.2 985L700 1021.7" fill="none" stroke="#000" stroke-width="2.8" stroke-linecap="round" stroke-linejoin="round"/>
<path d="M720 1010.3L700 1021.7L668.7 1038.7C669.1 1058 671.7 1077.4 670 1096.7C669.5 1102.3 669.7 1108.6 666.7 1113.3C665.6 1115.1 663.3 1115.8 661.7 1117" fill="none" stroke="#000" stroke-width="5.8" stroke-linecap="round" stroke-linejoin="round"/>
<path d="M675.3 1042L697 1030" fill="none" stroke="#000" stroke-width="2.8" stroke-linecap="round" stroke-linejoin="round"/>
<path d="M675.3 1042L672.5 1113.3" fill="none" stroke="#000" stroke-width="3.2" stroke-linecap="round" stroke-linejoin="round"/>
<path d="M697 1023.3L698.7 1100.3L672.5 1113.7" fill="none" stroke="#000" stroke-width="4" stroke-linecap="round" stroke-linejoin="round"/>
<path d="M710 1075L720 1070.8" fill="none" stroke="#000" stroke-width="2.8" stroke-linecap="round" stroke-linejoin="round"/>
<path d="M672.5 1113.7C670.6 1116.9 669.7 1121.1 666.7 1123.3C663 1126.1 657.9 1127.1 653.3 1127C651 1127 648.9 1125.7 646.7 1125L594.2 1096.7L595 1091.7L612 1082" fill="none" stroke="#000" stroke-width="6.6" stroke-linecap="round" stroke-linejoin="round"/>
<path d="M603.3 1095.3L650 1120.3L661.7 1117" fill="none" stroke="#000" stroke-width="3.2" stroke-linecap="round" stroke-linejoin="round"/>
<path d="M603.3 1092L611.7 1085.3L663.7 1105.3" fill="none" stroke="#000" stroke-width="3.2" stroke-linecap="round" stroke-linejoin="round"/>
<path d="M634.2 945.3L635 1073.3 Q635 1080.8 641.7 1084.4L641.7 1084.4 Q648.3 1088 655.9 1088.3L665.3 1088.7" fill="none" stroke="#000" stroke-width="5.4" stroke-linecap="round" stroke-linejoin="round"/>
<path d="M634.2 945.3L665.3 958.7" fill="none" stroke="#000" stroke-width="6.8" stroke-linecap="round" stroke-linejoin="round"/>
<path d="M636.7 951.7C641.1 956.2 644.4 962.2 650 965.3C654.6 967.9 660.2 967.6 665.3 968.7" fill="none" stroke="#000" stroke-width="3.6" stroke-linecap="round" stroke-linejoin="round"/>
<path d="M593.3 1038.3L613.7 1048.7C614.1 1053 614.5 1057.3 615 1061.7C615.6 1067.8 616.3 1073.9 617 1080" fill="none" stroke="#000" stroke-width="5.8" stroke-linecap="round" stroke-linejoin="round"/>
<path d="M594.2 1039.2L593.3 1063.7" fill="none" stroke="#000" stroke-width="5.8" stroke-linecap="round" stroke-linejoin="round"/>
<path d="M593.3 1063.7C596.1 1064.7 598.7 1066.6 601.7 1066.7C605.3 1066.7 608.6 1064.4 612 1063.3" fill="none" stroke="#000" stroke-width="4" stroke-linecap="round" stroke-linejoin="round"/>
<path d="M596.7 1046.7C601.1 1048.9 607 1049.4 610 1053.3C611.9 1055.8 611.1 1059.4 611.7 1062.5" fill="none" stroke="#000" stroke-width="2.8" stroke-linecap="round" stroke-linejoin="round"/>
<path d="M495 1032L573.3 1078.3" fill="none" stroke="#000" stroke-width="8.5" stroke-linecap="butt" stroke-linejoin="round"/>
<path d="M573 1078.3C579.8 1075.1 586.3 1071.3 593.3 1068.7C599.3 1066.5 605.6 1065.3 611.7 1063.7" fill="none" stroke="#000" stroke-width="6.8" stroke-linecap="round" stroke-linejoin="round"/>
<path d="M510.8 1015L593.7 1062" fill="none" stroke="#000" stroke-width="4" stroke-linecap="round" stroke-linejoin="round"/>
<path d="M491.7 863.3L492.5 975.3" fill="none" stroke="#000" stroke-width="4.6" stroke-linecap="round" stroke-linejoin="round"/>
<path d="M491.7 863.3L523.3 880" fill="none" stroke="#000" stroke-width="5.8" stroke-linecap="round" stroke-linejoin="round"/>
<path d="M493.3 867C497.8 870.9 501.7 875.5 506.7 878.7C512.3 882.2 518.6 884.9 525 886.7C528.9 887.8 533 887.8 537 888.3L538.7 1006.7L517.8 1007" fill="none" stroke="#000" stroke-width="5.4" stroke-linecap="round" stroke-linejoin="round"/>
<path d="M489.2 908.3L464.2 920.8L466.7 980" fill="none" stroke="#000" stroke-width="8" stroke-linecap="round" stroke-linejoin="round"/>
<ellipse cx="588.7" cy="944.2" rx="22" ry="30" fill="none" stroke="#000" stroke-width="6.4" transform="rotate(-18 588.7 944.2)"/>
<path d="M576.7 923.3C575.8 927.8 573.8 932.2 574.2 936.7C574.6 942.5 577 948.2 580 953.3C583 958.4 586.6 963.6 591.7 966.7C594.6 968.5 598.3 968.3 601.7 969.2" fill="none" stroke="#000" stroke-width="2.8" stroke-linecap="round" stroke-linejoin="round"/>
<path d="M570 928.3C569.4 932.2 567.9 936.1 568.3 940C569 946.5 571.6 952.8 575 958.3C578 963.2 582.8 966.7 586.7 970.8" fill="none" stroke="#000" stroke-width="2.8" stroke-linecap="round" stroke-linejoin="round"/>
<ellipse cx="476.3" cy="1010.8" rx="11.3" ry="23" fill="none" stroke="#000" stroke-width="4.7" transform="rotate(-22 476.3 1010.8)"/>
<ellipse cx="472" cy="1013" rx="7.3" ry="18" fill="none" stroke="#000" stroke-width="2.8" transform="rotate(-22 472 1013)"/>
<path d="M482 990.8C487.7 987.2 492.4 980.5 499.2 980C502.6 979.7 506.2 981.7 508.7 984.2C511.9 987.4 514.2 992.1 514.3 996.7C514.4 1000.3 512.7 1004 510.3 1006.7C505.5 1012.1 497.7 1013.6 491.3 1017" fill="none" stroke="#000" stroke-width="5.1" stroke-linecap="round" stroke-linejoin="round"/>
<path d="M482 990.8C483.8 995 486 999 487.5 1003.3C489.1 1007.8 490.1 1012.4 491.3 1017" fill="none" stroke="#000" stroke-width="4.1" stroke-linecap="round" stroke-linejoin="round"/>
<path d="M463.3 993C456.3 991.7 452 1001.8 446.7 1006.7C442.6 1010.4 438.1 1013.8 435 1018.3C432.6 1021.8 429.7 1025.8 430 1030C430.3 1033.8 432.8 1037.5 435.8 1039.7C439.8 1042.5 445.2 1042.9 450 1042.7C454.6 1042.5 459.1 1040.5 463.3 1038.7C467.1 1037.1 472.2 1036.3 474.2 1032.7C476.5 1028.5 474.1 1023.1 473.3 1018.3C472.5 1013.2 471.2 1008.1 469.2 1003.3C467.7 999.7 467.2 993.7 463.3 993Z" fill="#fff" stroke="#000" stroke-width="4.7" stroke-linecap="round" stroke-linejoin="round"/>
<ellipse cx="461.7" cy="1018.7" rx="3.3" ry="3" fill="#000" stroke="#000" stroke-width="2"/>
<path d="M436.7 1032C441.7 1027 445.4 1020.2 451.7 1017C453.9 1015.9 456.7 1016.2 459.2 1015.8" fill="none" stroke="#000" stroke-width="2.4" stroke-linecap="round" stroke-linejoin="round"/>
<path d="M456.7 1005.8C457.3 1006.7 458.6 1007.3 458.7 1008.3C458.7 1009.3 457.6 1010 457 1010.8" fill="none" stroke="#000" stroke-width="2" stroke-linecap="round" stroke-linejoin="round"/>
<path d="M463.3 1013.3L469.2 1010.8" fill="none" stroke="#000" stroke-width="2.6" stroke-linecap="round" stroke-linejoin="round"/>
<ellipse cx="470" cy="1026.7" rx="1" ry="1" fill="#000" stroke="#000" stroke-width="1.5"/>
<path d="M223.2 934.7 Q231.8 929.5 240.5 934.3L380.7 1012.1 Q405 1025.5 417.5 1050.2L417.5 1050.2 Q430 1075 429.9 1102.7L429.6 1240.5 Q429.5 1262.5 409.7 1272L296.4 1326.4 Q283.8 1332.5 271.4 1325.9L131.2 1251.3 Q106.2 1238 96.5 1211.5L96.5 1211.5 Q86.8 1185 86.8 1156.8L86.8 1033.8 Q86.8 1022.5 95.2 1015L99.3 1011.5 Q103.8 1007.5 108.9 1004.4Z" fill="none" stroke="#000" stroke-width="6" stroke-linecap="round" stroke-linejoin="round"/>
<path d="M110 1009.2C161.7 1036.2 217.1 1056.8 265 1090C272.4 1095.1 279.6 1100.9 285 1108C290.1 1114.7 293.8 1122.5 296.2 1130.5C299.1 1140 299.4 1150.1 300 1160C302.6 1201.6 301.3 1243.4 300 1285C299.6 1298.5 298.3 1312 297.5 1325.5" fill="none" stroke="#000" stroke-width="3.5" stroke-linecap="round" stroke-linejoin="round"/>
<path d="M101.2 1023.8C104.2 1022.1 106.7 1019.2 110 1018.8C113 1018.4 116 1020.1 118.8 1021.2C128.9 1025.5 137.9 1032.1 147.5 1037.5C184.2 1057.5 223.3 1073.5 257.5 1097.5C263.9 1102 270.1 1106.9 275 1113C280.4 1119.7 284.7 1127.4 287.5 1135.5C290.2 1143.3 290.8 1151.8 291.5 1160C294.9 1201.5 294.5 1243.4 291.5 1285C290.8 1294.4 292.3 1304.9 287.5 1313C285.4 1316.6 280.8 1318 277.5 1320.5" fill="none" stroke="#000" stroke-width="5.4" stroke-linecap="round" stroke-linejoin="round"/>
<path d="M147.5 1043C143.3 1047 138.3 1050.3 135 1055C130.8 1061 128.2 1068 126.2 1075C124 1083.1 123 1091.6 123 1100C123 1108.4 124.6 1116.8 126.2 1125C128.4 1135.6 131 1146.2 135 1156.2C139 1166.3 144.5 1175.7 150 1185C156.9 1196.6 163.9 1208.3 172.5 1218.8C180 1227.9 188.1 1236.6 197.5 1243.8C207.4 1251.4 218.2 1258.3 230 1262.5C240.3 1266.2 251.5 1268.2 262.5 1268C270.6 1267.8 278.3 1264.7 286.2 1263" fill="none" stroke="#000" stroke-width="3.7" stroke-linecap="round" stroke-linejoin="round"/>
<path d="M171.2 1054.2C165.8 1057.4 159.5 1059.4 155 1063.8C150 1068.5 146.3 1074.8 143.8 1081.2C140.7 1089.1 139.5 1097.8 139.2 1106.2C139 1114.7 140.7 1123 142.5 1131.2C144.9 1141.9 148 1152.5 152.5 1162.5C157.9 1174.4 164.8 1185.6 172.5 1196.2C179.9 1206.5 188.3 1216.2 197.5 1225C203.3 1230.5 209.5 1235.8 216.2 1240C223.7 1244.6 231.7 1248.5 240 1251.2C248.1 1253.9 256.5 1256.4 265 1256.2C272.3 1256.1 279.2 1252.9 286.2 1251.2" fill="none" stroke="#000" stroke-width="2.4" stroke-linecap="round" stroke-linejoin="round"/>
<path d="M178.8 1058.8C172.5 1062.1 165.1 1063.9 160 1068.8C154.7 1073.8 151.3 1080.7 148.8 1087.5C146.5 1093.4 145.7 1099.9 145.5 1106.2C145.3 1112.5 146.3 1118.8 147.5 1125C149.2 1133.5 151.8 1141.9 155 1150C159.8 1162.1 165.5 1174 172.5 1185C179.7 1196.2 188.2 1206.7 197.5 1216.2C205.1 1224.1 213.1 1231.9 222.5 1237.5C230.2 1242 238.8 1245.2 247.5 1247C254.9 1248.5 262.6 1249.3 270 1248C275.8 1247 280.8 1243.5 286.2 1241.2" fill="none" stroke="#000" stroke-width="3.1" stroke-linecap="round" stroke-linejoin="round"/>
<path d="M190 1064.2C183.3 1066.6 175.8 1067.2 170 1071.2C164.2 1075.3 159.7 1081.3 156.2 1087.5C153.1 1093.2 151.1 1099.7 150.5 1106.2C149.9 1112.5 151.3 1118.8 152.5 1125C154.2 1133.5 157.5 1141.7 160 1150" fill="none" stroke="#000" stroke-width="3.1" stroke-linecap="round" stroke-linejoin="round"/>
<path d="M160 1150C165.8 1160.4 170.7 1171.4 177.5 1181.2C185.2 1192.4 193.7 1203.4 203.8 1212.5C213.1 1220.9 224.6 1226.7 235 1233.8" fill="none" stroke="#000" stroke-width="6" stroke-linecap="round" stroke-linejoin="round"/>
<path d="M235 1233.8C243.3 1236.7 251.2 1242.7 260 1242.5C266.7 1242.4 273.7 1239.4 278.8 1235C283.1 1231.2 284.6 1225 287.5 1220" fill="none" stroke="#000" stroke-width="3.1" stroke-linecap="round" stroke-linejoin="round"/>
<path d="M257.5 1100.5C262.9 1104.5 269.3 1107.4 273.8 1112.5C279.1 1118.6 281.6 1126.7 285.5 1133.8" fill="none" stroke="#000" stroke-width="6" stroke-linecap="round" stroke-linejoin="round"/>
<path d="M285.5 1133.8C286.3 1142.5 287.6 1151.2 288 1160C288.9 1180 287.7 1200 287.5 1220" fill="none" stroke="#000" stroke-width="2.4" stroke-linecap="round" stroke-linejoin="round"/>
<path d="M276.2 1089.2L383.8 1026.2" fill="none" stroke="#000" stroke-width="3.1" stroke-linecap="round" stroke-linejoin="round"/>
<path d="M303.8 1134.2L362.5 1103" fill="none" stroke="#000" stroke-width="3.1" stroke-linecap="round" stroke-linejoin="round"/>
<path d="M367.5 1101.2L417.5 1075" fill="none" stroke="#000" stroke-width="3.1" stroke-linecap="round" stroke-linejoin="round"/>
<path d="M424.1 1142.2 Q425 1141.8 425.9 1141.4L433.1 1138.7 Q435 1138 435 1140L435 1187.5 Q435 1190.5 432.1 1191.3L409.7 1197.4 Q400 1200 392.9 1192.9L391.2 1191.2 Q382.5 1182.5 388.7 1171.8L394 1162.7 Q397 1157.5 402.2 1154.6Z" fill="none" stroke="#000" stroke-width="5.4" stroke-linecap="round" stroke-linejoin="round"/>
<path d="M397 1160L398 1195.5" fill="none" stroke="#000" stroke-width="3.5" stroke-linecap="round" stroke-linejoin="round"/>
<path d="M403.8 1160L404 1195.5" fill="none" stroke="#000" stroke-width="2.4" stroke-linecap="round" stroke-linejoin="round"/>
<path d="M655 1246.5 Q656.1 1241.6 660.8 1240L777.6 1199.6 Q815.4 1186.6 855.2 1183.2L896.1 1179.7 Q910.1 1178.5 922.1 1185.6L968.7 1212.9 Q1003.2 1233.2 1027.8 1264.8L1085.7 1339.3 Q1094.3 1350.4 1082.4 1357.8L909.5 1464.7 Q871.3 1488.4 831.9 1466.5L644.6 1362.3 Q632.3 1355.5 635.2 1341.8Z" fill="none" stroke="#000" stroke-width="5.4" stroke-linecap="round" stroke-linejoin="round"/>
<path d="M972.5 1226.2L982.5 1232.9 Q992.5 1239.5 999.7 1249.1L1048.3 1314.2 Q1054.2 1322.2 1044.8 1325.7L897.2 1379.2 Q876.5 1386.8 857.2 1376.2L662.6 1269.4 Q660 1268 659 1265.2L655.5 1255.8 Q654.5 1253 657.3 1252L789.4 1202.9 Q817.5 1192.5 847.4 1190.2L883 1187.4 Q895 1186.5 905.5 1192.4L920 1200.5" fill="none" stroke="#000" stroke-width="3.6" stroke-linecap="round" stroke-linejoin="round"/>
<path d="M655 1260L855.2 1369.4 Q872.8 1379 891.4 1371.8L1025 1320" fill="none" stroke="#000" stroke-width="2.7" stroke-linecap="round" stroke-linejoin="round"/>
<path d="M691.2 1270L823 1218.8" fill="none" stroke="#000" stroke-width="3.1" stroke-linecap="round" stroke-linejoin="round"/>
<path d="M665 1255.5L722.2 1294.4 Q723 1295 723.4 1294.1L727 1286.2" fill="none" stroke="#000" stroke-width="3.6" stroke-linecap="round" stroke-linejoin="round"/>
<path d="M727 1286.2L784.6 1261.9 Q792 1258.8 799 1262.5L930.6 1333.1 Q935 1335.5 936.4 1340.3L936.9 1341.7 Q938 1345.5 934.2 1346.8L873 1367.5" fill="none" stroke="#000" stroke-width="5.8" stroke-linecap="round" stroke-linejoin="round"/>
<path d="M735.5 1289.5L803.3 1329.5 Q805 1330.5 805.9 1332.3L809.6 1339.6 Q810 1340.5 809 1340.3L800 1338" fill="none" stroke="#000" stroke-width="4" stroke-linecap="round" stroke-linejoin="round"/>
<path d="M810 1340.5L868 1370.5" fill="none" stroke="#000" stroke-width="6" stroke-linecap="round" stroke-linejoin="round"/>
<path d="M727 1295L855.5 1375.5" fill="none" stroke="#000" stroke-width="2.7" stroke-linecap="round" stroke-linejoin="round"/>
<path d="M768.8 1245 L815.5 1234.2" fill="none" stroke="#000" stroke-width="18.6" stroke-linecap="round"/>
<path d="M768.8 1245 L815.5 1234.2" fill="none" stroke="#fff" stroke-width="11.4" stroke-linecap="round"/>
<path d="M830 1249.5 L844.5 1244.5" fill="none" stroke="#000" stroke-width="11.6" stroke-linecap="round"/>
<path d="M830 1249.5 L844.5 1244.5" fill="none" stroke="#fff" stroke-width="4.4" stroke-linecap="round"/>
<path d="M963 1328 L977.5 1322.8" fill="none" stroke="#000" stroke-width="11.6" stroke-linecap="round"/>
<path d="M963 1328 L977.5 1322.8" fill="none" stroke="#fff" stroke-width="4.4" stroke-linecap="round"/>
<path d="M823.8 1205C825.8 1210 827.2 1215.3 830 1220C832.7 1224.6 836 1229 840 1232.5C843.7 1235.7 848.3 1237.5 852.5 1240" fill="none" stroke="#000" stroke-width="3" stroke-linecap="round" stroke-linejoin="round"/>
<path d="M852.5 1243.8L902.5 1272.5" fill="none" stroke="#000" stroke-width="2.7" stroke-linecap="round" stroke-linejoin="round"/>
<path d="M911.2 1208.8L903.8 1267.5" fill="none" stroke="#000" stroke-width="3.6" stroke-linecap="round" stroke-linejoin="round"/>
<path d="M911.2 1208.8L918.5 1202.6 Q920 1201.2 921.9 1200.8L924 1200.2 Q925 1200 925 1201L927.5 1260" fill="none" stroke="#000" stroke-width="5.4" stroke-linecap="round" stroke-linejoin="round"/>
<path d="M925 1200L971.6 1225.8 Q972.5 1226.2 972 1227.1L969.2 1232.1 Q968.8 1233 967.8 1232.7L930.9 1219.1 Q930 1218.8 930 1219.7L931.1 1259 Q931.2 1265 935.4 1269.4L952.5 1287.5" fill="none" stroke="#000" stroke-width="5.4" stroke-linecap="round" stroke-linejoin="round"/>
<path d="M933 1223L953.2 1234 Q955 1235 954.9 1237L952.5 1285" fill="none" stroke="#000" stroke-width="4.2" stroke-linecap="round" stroke-linejoin="round"/>
<path d="M961.2 1232.5C960 1243.3 958.4 1254.1 957.5 1265C956.8 1273.3 959.2 1282.2 956.2 1290C954.6 1294.5 950.4 1297.5 947.5 1301.2" fill="none" stroke="#000" stroke-width="3.6" stroke-linecap="round" stroke-linejoin="round"/>
<path d="M898.8 1272.5L930 1265" fill="none" stroke="#000" stroke-width="3.6" stroke-linecap="round" stroke-linejoin="round"/>
<path d="M864.7 1286.3 Q860.5 1283.5 865.2 1281.7L880.8 1275.8 Q885.5 1274 889.8 1276.6L936.2 1305.4 Q940.5 1308 936.1 1310.3L920.7 1318.2 Q916.2 1320.5 912.1 1317.7Z" fill="none" stroke="#000" stroke-width="6.4" stroke-linecap="round" stroke-linejoin="round"/>
<path d="M875.2 1289.4 Q873 1288.2 875.4 1287.4L883.1 1284.6 Q885.5 1283.8 887.6 1285L925.9 1308 Q928 1309.2 925.6 1310.1L920.4 1311.9 Q918 1312.8 915.8 1311.6Z" fill="none" stroke="#000" stroke-width="3.6" stroke-linecap="round" stroke-linejoin="round"/>
<path d="M917.5 1275.2 Q917.5 1273.8 918.9 1273.3L928.6 1270.4 Q930 1270 931.3 1270.7L951.2 1281.8 Q952.5 1282.5 952.5 1284L952.5 1288 Q952.5 1289.5 951 1289.7L941.5 1290.8 Q940 1291 938.7 1290.3L918.8 1279.5 Q917.5 1278.8 917.5 1277.2Z" fill="none" stroke="#000" stroke-width="4" stroke-linecap="round" stroke-linejoin="round"/>
<path d="M957.5 1302.5C964.2 1306.7 972.3 1309.1 977.5 1315C980.1 1317.9 980.8 1322 982.5 1325.5" fill="none" stroke="#000" stroke-width="3" stroke-linecap="round" stroke-linejoin="round"/>
<path d="M973.8 1227.5L985.3 1243.2 Q991.2 1251.2 995.9 1260.1L1024.5 1314.6 Q1025 1315.5 1024 1315.8L998.8 1323.8 Q995 1325 991 1325.5L982.5 1326.5" fill="none" stroke="#000" stroke-width="3.6" stroke-linecap="round" stroke-linejoin="round"/>
<path d="M992.5 1325.5L1025 1316.5" fill="none" stroke="#000" stroke-width="5.4" stroke-linecap="round" stroke-linejoin="round"/>
<path d="M1086 1473.5 Q1086.2 1459.5 1098.6 1452.9L1175.4 1411.8 Q1182.5 1408 1189.5 1411.9L1282.9 1464 Q1285.5 1465.5 1287.6 1467.7L1293.3 1473.7 Q1298.8 1479.5 1300.9 1487.2L1302.3 1492.3 Q1304.5 1500 1304.4 1508L1304 1539.8 Q1304 1543.8 1300.9 1546.3L1295.3 1551.1 Q1293 1553 1292.8 1556L1291 1592.5 Q1290.5 1602.5 1281.9 1607.7L1237.6 1634.4 Q1232.5 1637.5 1226.6 1638.3L1209.9 1640.6 Q1200 1642 1191.1 1637.5L1109.3 1596 Q1095 1588.8 1092.3 1573L1090 1559.4 Q1085 1530 1085.5 1500.2Z" fill="none" stroke="#000" stroke-width="5.4" stroke-linecap="round" stroke-linejoin="round"/>
<path d="M1095 1455L1099.8 1455.4 Q1103.8 1455.8 1107.3 1457.5L1192.9 1500.7 Q1200 1504.2 1207.5 1501.5L1280.5 1474.5" fill="none" stroke="#000" stroke-width="3.6" stroke-linecap="round" stroke-linejoin="round"/>
<path d="M1170 1415.5L1263 1468.1 Q1270 1472 1275 1478.3L1277 1480.8 Q1281.2 1486.2 1282.1 1493.1L1283 1500" fill="none" stroke="#000" stroke-width="3.6" stroke-linecap="round" stroke-linejoin="round"/>
<path d="M1092.5 1465.5L1099.1 1466.8 Q1105 1468 1110.4 1470.6L1159.9 1494.4 Q1172.5 1500.5 1180 1512.3L1182.7 1516.5 Q1191.2 1530 1191 1546L1190.3 1588 Q1190 1605 1188.1 1621.9L1186.2 1638.8" fill="none" stroke="#000" stroke-width="3.1" stroke-linecap="round" stroke-linejoin="round"/>
<path d="M1206.2 1638.8L1205.2 1551.9 Q1205 1540 1208.1 1528.5L1209.2 1524.7 Q1211.2 1517 1218.7 1514.1L1274.4 1492.7 Q1280 1490.5 1281.5 1496.3L1282.2 1499.2 Q1283.8 1505 1283.5 1511L1280 1602.5" fill="none" stroke="#000" stroke-width="3.1" stroke-linecap="round" stroke-linejoin="round"/>
<path d="M1213.8 1420C1217.1 1418.5 1220.1 1416 1223.8 1415.5C1227.5 1415 1231.6 1415.9 1235 1417.5C1239 1419.4 1242.8 1422.4 1245 1426.2C1246.1 1428.2 1245.8 1430.8 1246.2 1433L1213.8 1420Z" fill="#000" stroke="#000" stroke-width="2" stroke-linecap="round" stroke-linejoin="round"/>
<path d="M1295 1460.5L1299.1 1456.6 Q1301.2 1454.5 1303.9 1455.9L1322.9 1466.1 Q1325.5 1467.5 1324.8 1470.4L1323.7 1475.1 Q1323 1478 1320.3 1479.3L1303.8 1487.5" fill="none" stroke="#000" stroke-width="5.4" stroke-linecap="round" stroke-linejoin="round"/>
<path d="M1301.2 1465L1318 1474.5" fill="none" stroke="#000" stroke-width="2.7" stroke-linecap="round" stroke-linejoin="round"/>
<path d="M1220 1638.8C1222.1 1641 1223.3 1644.9 1226.2 1645.5C1229.8 1646.3 1233.4 1643.5 1236.2 1641.2C1239 1639.1 1240.4 1635.8 1242.5 1633" fill="none" stroke="#000" stroke-width="5.4" stroke-linecap="round" stroke-linejoin="round"/>
<path d="M1221.2 1642.5L1233.8 1637.5" fill="none" stroke="#000" stroke-width="3.6" stroke-linecap="round" stroke-linejoin="round"/>
<path d="M1190 1648.8C1199.2 1651.5 1208.7 1653.3 1217.5 1657C1221.9 1658.8 1225.9 1661.4 1230 1663.8C1239.3 1669 1249.1 1673.5 1257.5 1680C1266.8 1687.2 1275.5 1695.5 1282.5 1705C1289.8 1714.9 1296.1 1725.8 1300 1737.5C1302.7 1745.5 1304.4 1754.1 1303.8 1762.5C1303 1772.1 1299.9 1781.7 1295 1790C1288.8 1800.4 1279.8 1809.2 1270 1816.2C1255.1 1827.1 1237.4 1833.8 1220 1840C1203.8 1845.8 1186.9 1849.6 1170 1852.5C1153.5 1855.3 1136.7 1856.6 1120 1857C1106.7 1857.3 1093.3 1856.9 1080 1855.5C1068.7 1854.3 1057.5 1852.3 1046.5 1849.8C1035.2 1847.1 1023.9 1843.8 1013 1839.8C1001.6 1835.5 990.6 1830.4 979.8 1825C968.4 1819.3 957.8 1812.2 946.5 1806.5C935.6 1801 925 1794.6 913.2 1791.5C902.5 1788.6 891.1 1787.9 880 1788.2C873.7 1788.4 867.5 1790.2 861.2 1791.2" fill="none" stroke="#000" stroke-width="9.6" stroke-linecap="round" stroke-linejoin="round"/>
<path d="M1190 1648.8C1199.2 1651.5 1208.7 1653.3 1217.5 1657C1221.9 1658.8 1225.9 1661.4 1230 1663.8C1239.3 1669 1249.1 1673.5 1257.5 1680C1266.8 1687.2 1275.5 1695.5 1282.5 1705C1289.8 1714.9 1296.1 1725.8 1300 1737.5C1302.7 1745.5 1304.4 1754.1 1303.8 1762.5C1303 1772.1 1299.9 1781.7 1295 1790C1288.8 1800.4 1279.8 1809.2 1270 1816.2C1255.1 1827.1 1237.4 1833.8 1220 1840C1203.8 1845.8 1186.9 1849.6 1170 1852.5C1153.5 1855.3 1136.7 1856.6 1120 1857C1106.7 1857.3 1093.3 1856.9 1080 1855.5C1068.7 1854.3 1057.5 1852.3 1046.5 1849.8C1035.2 1847.1 1023.9 1843.8 1013 1839.8C1001.6 1835.5 990.6 1830.4 979.8 1825C968.4 1819.3 957.8 1812.2 946.5 1806.5C935.6 1801 925 1794.6 913.2 1791.5C902.5 1788.6 891.1 1787.9 880 1788.2C873.7 1788.4 867.5 1790.2 861.2 1791.2" fill="none" stroke="#fff" stroke-width="1.6" stroke-linecap="butt" stroke-linejoin="round" stroke-dasharray="60 18 26 50 10 70"/>
<path d="M1223 1695C1222.2 1699.6 1222 1704.3 1220.5 1708.8C1219.1 1712.9 1217.3 1717.1 1214.5 1720.5C1210.7 1725.2 1205.8 1729.2 1200.5 1732C1191.1 1736.9 1180.5 1739.4 1170 1740.8C1158 1742.3 1145.6 1742.2 1133.8 1740C1121.3 1737.7 1108.4 1734.3 1098 1727C1090.6 1721.8 1084.2 1714.5 1080.5 1706.2C1077.7 1699.9 1076.5 1692.4 1077.8 1685.5C1079.1 1677.9 1083.4 1670.6 1088.8 1665C1095.1 1658.3 1103.8 1653.9 1112.5 1650.8C1122.8 1647 1134 1646 1145 1645.5C1160 1644.8 1175.2 1646 1190 1648.8C1199.4 1650.5 1208.3 1654.2 1217.5 1657" fill="none" stroke="#000" stroke-width="10.4" stroke-linecap="round" stroke-linejoin="round"/>
<path d="M1223 1695C1222.2 1699.6 1222 1704.3 1220.5 1708.8C1219.1 1712.9 1217.3 1717.1 1214.5 1720.5C1210.7 1725.2 1205.8 1729.2 1200.5 1732C1191.1 1736.9 1180.5 1739.4 1170 1740.8C1158 1742.3 1145.6 1742.2 1133.8 1740C1121.3 1737.7 1108.4 1734.3 1098 1727C1090.6 1721.8 1084.2 1714.5 1080.5 1706.2C1077.7 1699.9 1076.5 1692.4 1077.8 1685.5C1079.1 1677.9 1083.4 1670.6 1088.8 1665C1095.1 1658.3 1103.8 1653.9 1112.5 1650.8C1122.8 1647 1134 1646 1145 1645.5C1160 1644.8 1175.2 1646 1190 1648.8C1199.4 1650.5 1208.3 1654.2 1217.5 1657" fill="none" stroke="#fff" stroke-width="1.6" stroke-linecap="butt" stroke-linejoin="round" stroke-dasharray="50 10 40 16"/>
<path d="M1224 1645C1223.8 1656.7 1223.7 1668.3 1223.5 1680C1223.4 1686.3 1223.2 1692.5 1223 1698.8" fill="none" stroke="#000" stroke-width="11.5" stroke-linecap="butt" stroke-linejoin="round"/>
<path d="M1224 1645C1223.8 1656.7 1223.7 1668.3 1223.5 1680C1223.4 1686.3 1223.2 1692.5 1223 1698.8" fill="none" stroke="#fff" stroke-width="3.2" stroke-linecap="butt" stroke-linejoin="round"/>
<path d="M891.7 1528.3L874.2 1537 Q869.7 1539.2 870.2 1544.1L870.5 1546.2 Q870.8 1549.2 873.4 1550.7L997.2 1622 Q1005.8 1627 1014.6 1622.3L1068 1593.7 Q1073.3 1590.8 1068.6 1587.1L1052.5 1574.2" fill="none" stroke="#000" stroke-width="7.3" stroke-linecap="round" stroke-linejoin="round"/>
<path d="M875 1543.3L888.7 1536.7" fill="none" stroke="#000" stroke-width="4.4" stroke-linecap="round" stroke-linejoin="round"/>
<path d="M891.7 1530L890.4 1540.6 Q890 1544.2 891.8 1547.2L892.6 1548.6 Q893.7 1550.3 895.4 1551.3L993.7 1607" fill="none" stroke="#000" stroke-width="7.3" stroke-linecap="round" stroke-linejoin="round"/>
<path d="M898.7 1535.3L927 1550.3" fill="none" stroke="#000" stroke-width="4.4" stroke-linecap="round" stroke-linejoin="round"/>
<path d="M930.3 1553.7L995.3 1588.7" fill="none" stroke="#000" stroke-width="4.4" stroke-linecap="round" stroke-linejoin="round"/>
<path d="M995.3 1587L996.7 1607.5" fill="none" stroke="#000" stroke-width="6.7" stroke-linecap="round" stroke-linejoin="round"/>
<path d="M999.2 1588.7L1002.6 1587.6 Q1005.3 1586.7 1006.5 1589.3L1006.5 1589.3 Q1007.7 1592 1007.4 1594.9L1006.9 1602.3 Q1006.7 1605.3 1003.8 1606.3L1000 1607.7" fill="none" stroke="#000" stroke-width="4.8" stroke-linecap="round" stroke-linejoin="round"/>
<path d="M1006.7 1600L1022.4 1592.4 Q1023.3 1592 1023.4 1593L1024.2 1610.3" fill="none" stroke="#000" stroke-width="6.7" stroke-linecap="round" stroke-linejoin="round"/>
<path d="M1024.2 1583.3L1040 1575.1 Q1043.3 1573.3 1046.7 1575.2L1047.4 1575.6 Q1050 1577 1049.9 1580L1049.2 1595 Q1049.2 1597 1047.4 1597.9L1024.2 1610.3" fill="none" stroke="#000" stroke-width="6.7" stroke-linecap="round" stroke-linejoin="round"/>
<path d="M1024.2 1583.3L1024.2 1610.3" fill="none" stroke="#000" stroke-width="6.7" stroke-linecap="round" stroke-linejoin="round"/>
<path d="M1029.7 1585.3L1043.3 1578.7" fill="none" stroke="#000" stroke-width="6.7" stroke-linecap="round" stroke-linejoin="round"/>
<path d="M1051.7 1550L1053.3 1577" fill="none" stroke="#000" stroke-width="6.7" stroke-linecap="round" stroke-linejoin="round"/>
<path d="M1021.7 1530.3L1051.7 1550" fill="none" stroke="#000" stroke-width="6.7" stroke-linecap="round" stroke-linejoin="round"/>
<path d="M1030.3 1560.8L1045.3 1552.5" fill="none" stroke="#000" stroke-width="2.7" stroke-linecap="round" stroke-linejoin="round"/>
<path d="M996.7 1583.7L1007.5 1577.5" fill="none" stroke="#000" stroke-width="2.7" stroke-linecap="round" stroke-linejoin="round"/>
<path d="M920.3 1534.7L940.8 1526" fill="none" stroke="#000" stroke-width="7.5" stroke-linecap="round" stroke-linejoin="round"/>
<path d="M977.5 1570L998.3 1559.5" fill="none" stroke="#000" stroke-width="7.5" stroke-linecap="round" stroke-linejoin="round"/>
<path d="M983.3 1567L991.7 1563" fill="none" stroke="#fff" stroke-width="1.4" stroke-linecap="round" stroke-linejoin="round"/>
<ellipse cx="1015" cy="1568.7" rx="10.3" ry="8" fill="none" stroke="#000" stroke-width="4" transform="rotate(-20 1015 1568.7)"/>
<path d="M1009.2 1565C1011.1 1565.8 1013.6 1565.9 1015 1567.5C1016.5 1569.2 1016.1 1571.9 1016.7 1574.2" fill="none" stroke="#000" stroke-width="4.4" stroke-linecap="round" stroke-linejoin="round"/>
<path d="M1015 1563.3L1021.7 1566.7" fill="none" stroke="#000" stroke-width="4.4" stroke-linecap="round" stroke-linejoin="round"/>
<path d="M945 1516.7L943.5 1481 Q943.3 1478 946 1476.6L953.1 1472.9 Q956.7 1471 960.5 1472.2L961.5 1472.5 Q965.3 1473.7 966.6 1477.5L969.5 1486.1 Q972 1493.7 977.2 1499.7L977.5 1500 Q982.5 1505.8 989.6 1508.9L993 1510.4 Q996.7 1512 1000.1 1509.9L1006.9 1505.7 Q1010.3 1503.7 1014.2 1504.5L1014.4 1504.5 Q1018.3 1505.3 1018.6 1509.3L1019.6 1522.3 Q1020 1528.3 1018.7 1534.2L1017.9 1537.8 Q1016.7 1543.7 1011.7 1547.1L1007.4 1550 Q1005 1551.7 1002.5 1550.2L1000 1548.7" fill="none" stroke="#000" stroke-width="7.9" stroke-linecap="round" stroke-linejoin="round"/>
<path d="M945 1516.7L948.7 1519.2 Q950.3 1520.3 952.2 1521L983.5 1533 Q985.3 1533.7 986.9 1532.4L990.4 1529.6 Q992 1528.3 992.5 1526.4L996.7 1512" fill="none" stroke="#000" stroke-width="7.5" stroke-linecap="round" stroke-linejoin="round"/>
<path d="M950 1487.3 Q950 1485.3 951.8 1484.4L956.6 1481.9 Q958.3 1481 958.4 1483L959.9 1510 Q960 1512 958.1 1512.5L951.9 1513.9 Q950 1514.3 950 1512.3Z" fill="none" stroke="#000" stroke-width="5" stroke-linecap="round" stroke-linejoin="round"/>
<path d="M965 1483.3C965.7 1488.9 965 1494.8 967 1500C969.4 1506.3 972.9 1512.8 978.3 1516.7C982.1 1519.3 987.2 1519.1 991.7 1520.3" fill="none" stroke="#000" stroke-width="5" stroke-linecap="round" stroke-linejoin="round"/>
<path d="M1001.7 1528.3L1003.7 1550.3" fill="none" stroke="#000" stroke-width="2.7" stroke-linecap="round" stroke-linejoin="round"/>
<path d="M996.7 1516.7L1015 1510" fill="none" stroke="#000" stroke-width="4.4" stroke-linecap="round" stroke-linejoin="round"/>
<path d="M898.3 1528.3L893.7 1518.1 Q892.5 1515.3 893.2 1512.4L894.3 1508.2 Q895 1505.3 897.8 1504.2L913.9 1497.8 Q916.7 1496.7 917.4 1499.6L920.1 1510.4 Q920.8 1513.3 918.2 1514.8L900 1525" fill="none" stroke="#000" stroke-width="7.3" stroke-linecap="round" stroke-linejoin="round"/>
<path d="M900.1 1508.5 Q900 1507 901.4 1506.4L912.8 1501.6 Q914.2 1501 914.3 1502.5L915.2 1515.2 Q915.3 1516.7 914 1517.4L902.3 1523.6 Q901 1524.3 900.9 1522.8Z" fill="none" stroke="#000" stroke-width="4.4" stroke-linecap="round" stroke-linejoin="round"/>
<path d="M927 1513.7C929.1 1510.9 930.6 1507.4 933.3 1505.3C935.7 1503.5 938.9 1503.1 941.7 1502" fill="none" stroke="#000" stroke-width="7.1" stroke-linecap="round" stroke-linejoin="round"/>
<path d="M928.7 1517L938.7 1512.7" fill="none" stroke="#000" stroke-width="7.7" stroke-linecap="round" stroke-linejoin="round"/>
<path d="M916.7 1583.3C911.1 1586.1 904.8 1587.7 900 1591.7C894.7 1596.1 890.7 1602.2 887.5 1608.3C884.8 1613.5 882.2 1619.2 882 1625C881.8 1629.6 882.9 1634.4 885.3 1638.3C888 1642.7 892.5 1645.9 897 1648.3C903 1651.5 910.2 1651.5 916.7 1653.7C922.3 1655.6 928.5 1656.8 933.3 1660.3C937.8 1663.6 940.8 1668.6 943.7 1673.3C945.8 1677 947 1681.1 948.7 1685" fill="none" stroke="#000" stroke-width="8.4" stroke-linecap="round" stroke-linejoin="round"/>
<path d="M916.7 1583.3C911.1 1586.1 904.8 1587.7 900 1591.7C894.7 1596.1 890.7 1602.2 887.5 1608.3C884.8 1613.5 882.2 1619.2 882 1625C881.8 1629.6 882.9 1634.4 885.3 1638.3C888 1642.7 892.5 1645.9 897 1648.3C903 1651.5 910.2 1651.5 916.7 1653.7C922.3 1655.6 928.5 1656.8 933.3 1660.3C937.8 1663.6 940.8 1668.6 943.7 1673.3C945.8 1677 947 1681.1 948.7 1685" fill="none" stroke="#fff" stroke-width="1" stroke-linecap="butt" stroke-linejoin="round" stroke-dasharray="6 40"/>
<path d="M898.3 1706.7C888.5 1704.7 879.6 1714 870 1716.7C859.1 1719.7 847.7 1721.1 836.7 1723.7C825.5 1726.2 813.6 1726.9 803.3 1732C797.7 1734.8 792.1 1738.4 788.7 1743.7C784.3 1750.3 783.2 1758.8 782.7 1766.7C781.9 1777.8 782.1 1789.8 786.7 1800C789.4 1806.1 794.3 1811.5 800 1815C808.3 1820.1 818.6 1821.9 828.3 1822.7C840 1823.5 852.1 1822 863.3 1818.7C872.9 1815.8 881.5 1810.4 890 1805.3C895.8 1801.9 901 1797.4 906.7 1793.7C911 1790.8 915.2 1787.5 920 1785.3C924.5 1783.3 931.5 1785.5 934.2 1781.3C939.3 1773.4 932.6 1762.4 930 1753.3C926.9 1742.8 923.1 1732.2 916.7 1723.3C911.8 1716.6 906.4 1708.3 898.3 1706.7Z" fill="#000" stroke="#000" stroke-width="2" stroke-linecap="round" stroke-linejoin="round"/>
<path d="M817 1772C817.3 1766.6 823.7 1763.2 828.3 1760.3C835.8 1755.7 844.8 1754.2 853.3 1752C864.3 1749.2 875.6 1748.2 886.7 1746.2C895.6 1744.5 905.5 1736.3 913.3 1740.8C915.1 1741.9 916.1 1744.8 915.3 1746.7C911.3 1756.7 896.4 1757 886.7 1761.7C879 1765.3 871.5 1769.4 863.3 1771.7C854.7 1774.1 845.6 1774.5 836.7 1775.3C831.1 1775.8 825 1778.4 820 1776C818.5 1775.3 816.9 1773.7 817 1772Z" fill="#fff" stroke="#fff" stroke-width="1" stroke-linecap="round" stroke-linejoin="round"/>
<path d="M920 1698.3C921.6 1690.7 930.2 1686.4 936.7 1682C944.2 1676.9 952.8 1673.2 961.7 1671C969.8 1669 978.3 1668.6 986.7 1669C995.1 1669.4 1003.9 1670 1011.7 1673.3C1018.7 1676.3 1025.5 1680.8 1030 1687C1034.1 1692.6 1035.4 1699.9 1036.7 1706.7C1038.3 1715.4 1039.8 1724.7 1037.7 1733.3C1036.4 1738.4 1033.8 1743.4 1030 1747C1022.8 1753.9 1012.6 1756.7 1003.3 1760.3C992.6 1764.6 981.1 1767.1 970 1770.3C962.2 1772.6 954.4 1774.6 946.7 1777C942.5 1778.3 937.6 1784 934.2 1781.3C926.8 1775.6 937.3 1762.7 936.7 1753.3C936 1743.1 933 1733.1 930 1723.3C927.4 1714.8 918.2 1707.1 920 1698.3Z" fill="#000" stroke="#000" stroke-width="2" stroke-linecap="round" stroke-linejoin="round"/>
<path d="M947 1722C950.7 1714.6 959.2 1710.5 966.7 1707C975.4 1702.9 985.3 1700.7 995 1700.3C1001.2 1700.1 1008.3 1699.8 1013.3 1703.3C1015.4 1704.8 1017.4 1707.5 1017 1710C1016.5 1713.3 1012.9 1715.4 1010 1717C1003 1720.8 994.5 1720.6 986.7 1722C978.4 1723.4 970 1724.3 961.7 1725.3C956.8 1725.9 950.7 1730.3 947 1727C945.8 1725.9 946.3 1723.5 947 1722Z" fill="#fff" stroke="#fff" stroke-width="1" stroke-linecap="round" stroke-linejoin="round"/>
<path d="M925.8 1697C932.2 1693.7 938.2 1689.3 945 1687C955.7 1683.3 967.1 1681.7 978.3 1681C987.8 1680.4 997.6 1680 1006.7 1682.7C1011.5 1684.1 1016.4 1686.4 1020 1690C1023.6 1693.6 1026.1 1698.4 1027.5 1703.3C1028.5 1706.8 1027.8 1710.6 1028 1714.2" fill="none" stroke="#fff" stroke-width="2.3" stroke-linecap="round" stroke-linejoin="round"/>
<path d="M930.3 1702C936.9 1698.7 943 1694.3 950 1692C959.6 1688.8 969.9 1687.3 980 1686.8C988.1 1686.4 996.1 1687.9 1004.2 1688.5" fill="none" stroke="#fff" stroke-width="2.3" stroke-linecap="round" stroke-linejoin="round"/>
<path d="M936.7 1707C942.2 1703.9 947.3 1699.8 953.3 1697.7C962.4 1694.4 972.1 1693.1 981.7 1692.7C985.3 1692.5 988.9 1693.2 992.5 1693.5" fill="none" stroke="#fff" stroke-width="2.3" stroke-linecap="round" stroke-linejoin="round"/>
<path d="M940.3 1713.3C945.8 1710.1 950.7 1705.8 956.7 1703.5C965.6 1700 975.6 1699.6 985 1697.7" fill="none" stroke="#fff" stroke-width="2.3" stroke-linecap="round" stroke-linejoin="round"/>
<path d="M1015 1686.7C1017.8 1689.4 1021.5 1691.5 1023.3 1695C1025.2 1698.5 1025 1702.8 1025.8 1706.7" fill="none" stroke="#fff" stroke-width="1.7" stroke-linecap="round" stroke-linejoin="round"/>
<path d="M975 1731C984.4 1729.6 994 1729 1003.3 1726.8C1010.2 1725.2 1016.7 1722.4 1023.3 1720.2C1025.9 1719.3 1028.4 1718.5 1031 1717.7" fill="none" stroke="#fff" stroke-width="2.3" stroke-linecap="round" stroke-linejoin="round"/>
<path d="M953.3 1739.3C964.4 1737.9 975.6 1737.1 986.7 1735.2C996.8 1733.4 1006.8 1731.4 1016.7 1728.5C1021.3 1727.1 1025.8 1725.2 1030.3 1723.5" fill="none" stroke="#fff" stroke-width="2.3" stroke-linecap="round" stroke-linejoin="round"/>
<path d="M958.3 1744.3C969.4 1742.9 980.6 1742.1 991.7 1740.2C1001.2 1738.5 1010.6 1735.7 1020 1733.5" fill="none" stroke="#fff" stroke-width="2.3" stroke-linecap="round" stroke-linejoin="round"/>
<path d="M955 1750.2C965.6 1749.1 976.2 1748.4 986.7 1746.8C996.7 1745.3 1006.8 1743.6 1016.7 1741C1020.8 1739.9 1024.7 1738.2 1028.7 1736.8" fill="none" stroke="#fff" stroke-width="2.3" stroke-linecap="round" stroke-linejoin="round"/>
<path d="M955.3 1758.3C965.8 1756.7 976.3 1755.6 986.7 1753.5C995.8 1751.7 1004.7 1749.1 1013.7 1746.8" fill="none" stroke="#fff" stroke-width="2.3" stroke-linecap="round" stroke-linejoin="round"/>
<path d="M957 1763.3C964.7 1762 972.4 1761.2 980 1759.3C987.9 1757.4 995.6 1754.3 1003.3 1751.8" fill="none" stroke="#fff" stroke-width="2.3" stroke-linecap="round" stroke-linejoin="round"/>
<path d="M811.7 1735C822.8 1732.8 833.8 1730.2 845 1728.5C854.4 1727 863.9 1726.6 873.3 1725.2C879 1724.3 884.7 1722.9 890.3 1721.8" fill="none" stroke="#fff" stroke-width="2.3" stroke-linecap="round" stroke-linejoin="round"/>
<path d="M795 1753.3C798.9 1750.1 802.2 1745.9 806.7 1743.5C813.3 1739.9 820.9 1738.4 828.3 1736.8C837.7 1734.9 847.4 1734.6 857 1733.5" fill="none" stroke="#fff" stroke-width="2.3" stroke-linecap="round" stroke-linejoin="round"/>
<path d="M800 1758.5C804.4 1755.2 808.4 1751 813.3 1748.5C820.6 1744.9 828.7 1743.2 836.7 1741.8C844.5 1740.5 852.4 1740.7 860.3 1740.2" fill="none" stroke="#fff" stroke-width="2.3" stroke-linecap="round" stroke-linejoin="round"/>
<path d="M803.3 1763.5C808.9 1760.2 814 1755.9 820 1753.5C828 1750.3 836.9 1749.6 845.3 1747.7" fill="none" stroke="#fff" stroke-width="2.3" stroke-linecap="round" stroke-linejoin="round"/>
<path d="M810 1768.5C814.4 1765.2 818.5 1761.2 823.3 1758.5C828.6 1755.5 834.7 1754.1 840.3 1751.8" fill="none" stroke="#fff" stroke-width="2.3" stroke-linecap="round" stroke-linejoin="round"/>
<path d="M856.7 1736.7C863.3 1735.1 870 1733.4 876.7 1732C883.3 1730.6 890 1729.6 896.7 1728.3" fill="none" stroke="#fff" stroke-width="2.3" stroke-linecap="round" stroke-linejoin="round"/>
<path d="M793.3 1781C799.4 1783.5 805.3 1786.8 811.7 1788.5C819.8 1790.7 828.3 1791.8 836.7 1791.8C845.6 1791.9 854.6 1790.6 863.3 1788.5C871.4 1786.6 878.9 1782.9 886.7 1780.2" fill="none" stroke="#fff" stroke-width="2.6" stroke-linecap="round" stroke-linejoin="round"/>
<path d="M798.3 1795.2C805.6 1797.1 812.7 1799.4 820 1801C821.7 1801.4 823.3 1801.6 825 1801.8" fill="none" stroke="#fff" stroke-width="2.3" stroke-linecap="round" stroke-linejoin="round"/>
<path d="M806.7 1803.5C816.7 1805.2 826.5 1808.3 836.7 1808.5C845.6 1808.7 854.7 1807.4 863.3 1805.2C870.4 1803.3 876.9 1799.6 883.7 1796.8" fill="none" stroke="#fff" stroke-width="2.3" stroke-linecap="round" stroke-linejoin="round"/>
<path d="M803.3 1810.2C814.4 1811.6 825.5 1814.2 836.7 1814.3C845.6 1814.5 854.7 1814.2 863.3 1811.8C873.5 1809.1 882.4 1802.9 892 1798.5" fill="none" stroke="#fff" stroke-width="2.3" stroke-linecap="round" stroke-linejoin="round"/>
<path d="M818.7 1778.5C825.8 1779.3 832.8 1781 840 1781C847.8 1781 855.7 1780.2 863.3 1778.5C869.2 1777.2 874.7 1774.6 880.3 1772.7" fill="none" stroke="#fff" stroke-width="2.3" stroke-linecap="round" stroke-linejoin="round"/>
<path d="M890 1770C894.4 1767.8 898.8 1765.3 903.3 1763.3C907.7 1761.4 912.2 1760 916.7 1758.3" fill="none" stroke="#fff" stroke-width="2.4" stroke-linecap="round" stroke-linejoin="round"/>
<path d="M900 1778.3C903.9 1775.6 907.5 1772.3 911.7 1770C914.3 1768.6 917.2 1767.8 920 1766.7" fill="none" stroke="#fff" stroke-width="3" stroke-linecap="round" stroke-linejoin="round"/>
<path d="M945 1720C949.4 1716.9 953.5 1713.2 958.3 1710.8C964.6 1707.7 971.7 1706.4 978.3 1704.2" fill="none" stroke="#fff" stroke-width="2.3" stroke-linecap="round" stroke-linejoin="round"/>
<path d="M966.7 1675C973.3 1674.4 980 1673.1 986.7 1673.3C993.4 1673.6 1000.3 1674.3 1006.7 1676.7C1012.7 1678.9 1017.8 1683.3 1023.3 1686.7" fill="none" stroke="#fff" stroke-width="2.2" stroke-linecap="round" stroke-linejoin="round"/>
<path d="M976.7 1766.7C985.6 1763.3 994.7 1760.7 1003.3 1756.7C1011.4 1752.9 1018.9 1747.8 1026.7 1743.3" fill="none" stroke="#fff" stroke-width="2.2" stroke-linecap="round" stroke-linejoin="round"/>
<path d="M791.7 1770C793.3 1766.1 794.2 1761.7 796.7 1758.3C799.7 1754.2 804.4 1751.7 808.3 1748.3" fill="none" stroke="#fff" stroke-width="2.2" stroke-linecap="round" stroke-linejoin="round"/>
<path d="M791.7 1788.3C797.8 1790.8 803.6 1794.2 810 1795.8C818.7 1798.1 827.7 1799.2 836.7 1799.2C845.6 1799.2 854.6 1798 863.3 1795.8C870.8 1794 877.8 1790.3 885 1787.5" fill="none" stroke="#fff" stroke-width="2.3" stroke-linecap="round" stroke-linejoin="round"/>
<path d="M863.3 1727.5C870 1726.4 876.8 1725.9 883.3 1724.2C887.3 1723.1 891.1 1721.4 895 1720" fill="none" stroke="#fff" stroke-width="2.2" stroke-linecap="round" stroke-linejoin="round"/>
<path d="M897 1710.3C900.8 1708.7 904.2 1705.9 908.3 1705.3C912.2 1704.8 916.1 1706.4 920 1707C925.6 1712 932.2 1716 936.7 1722C941.4 1728.4 944.5 1736 946.7 1743.7C948.3 1749.6 949.5 1755.9 948.7 1762C948 1766.7 946.7 1771.9 943.3 1775.3C940.5 1778.3 935.8 1778.7 932 1780.3C931.4 1775.3 931.2 1770.3 930.3 1765.3C929 1758 927.7 1750.6 925 1743.7C922.2 1736.5 918.6 1729.5 913.7 1723.7C909.1 1718.3 902.6 1714.8 897 1710.3Z" fill="#fff" stroke="#000" stroke-width="3.4" stroke-linecap="round" stroke-linejoin="round"/>
<path d="M886.7 1620C886.1 1623.4 884.5 1626.9 885 1630.3C885.6 1634.6 887.4 1638.9 890.3 1642C893.7 1645.5 898.7 1647.1 903.3 1648.7C909.7 1650.8 916.9 1649.9 923.3 1652C928.1 1653.5 932.9 1655.4 936.7 1658.7C940.3 1661.8 942.9 1666 945 1670.3C946.1 1672.6 946.3 1675.1 947 1677.5" fill="none" stroke="#000" stroke-width="8.6" stroke-linecap="round" stroke-linejoin="round"/>
</svg>
</body></html>
